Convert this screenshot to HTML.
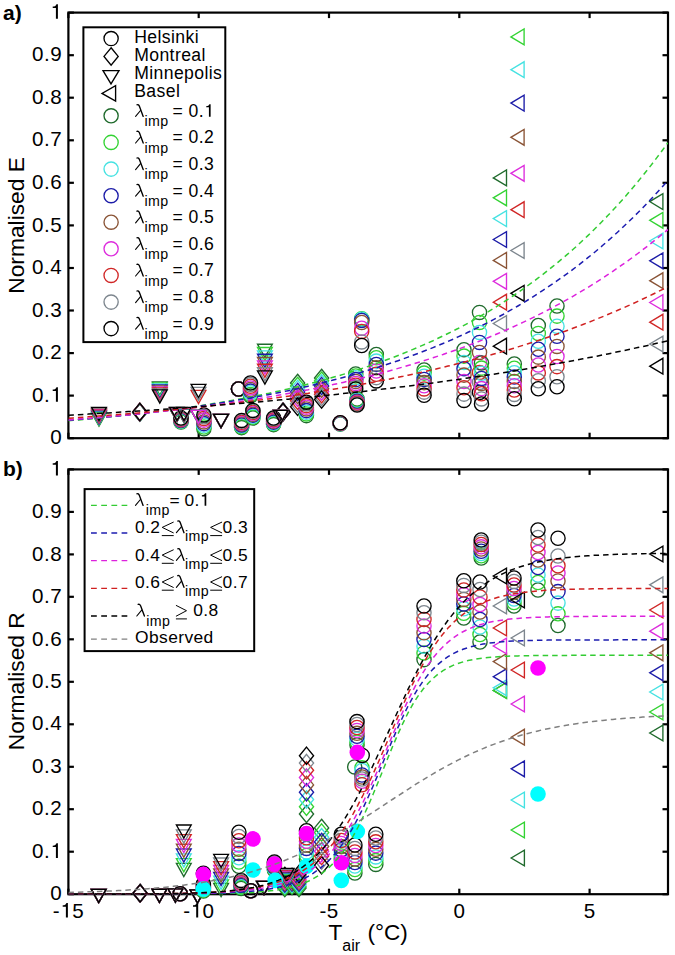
<!DOCTYPE html><html><head><meta charset="utf-8"><style>html,body{margin:0;padding:0;background:#fff;overflow:hidden;}svg{display:block;}text{font-family:"Liberation Sans",sans-serif;}</style></head><body>
<svg width="675" height="955" viewBox="0 0 675 955">
<defs><clipPath id="ca"><rect x="68.4" y="12.6" width="599.6" height="425.6"/></clipPath><clipPath id="cb"><rect x="68.4" y="469.4" width="599.6" height="424.8"/></clipPath></defs>
<g stroke="#000" stroke-width="2.2" fill="none"><line x1="68.4" y1="438.2" x2="68.4" y2="432.7"/><line x1="68.4" y1="12.6" x2="68.4" y2="18.1"/><line x1="198.7" y1="438.2" x2="198.7" y2="432.7"/><line x1="198.7" y1="12.6" x2="198.7" y2="18.1"/><line x1="329.0" y1="438.2" x2="329.0" y2="432.7"/><line x1="329.0" y1="12.6" x2="329.0" y2="18.1"/><line x1="459.3" y1="438.2" x2="459.3" y2="432.7"/><line x1="459.3" y1="12.6" x2="459.3" y2="18.1"/><line x1="589.6" y1="438.2" x2="589.6" y2="432.7"/><line x1="589.6" y1="12.6" x2="589.6" y2="18.1"/><line x1="68.4" y1="438.2" x2="73.9" y2="438.2"/><line x1="668.0" y1="438.2" x2="662.5" y2="438.2"/><line x1="68.4" y1="395.6" x2="73.9" y2="395.6"/><line x1="668.0" y1="395.6" x2="662.5" y2="395.6"/><line x1="68.4" y1="353.1" x2="73.9" y2="353.1"/><line x1="668.0" y1="353.1" x2="662.5" y2="353.1"/><line x1="68.4" y1="310.5" x2="73.9" y2="310.5"/><line x1="668.0" y1="310.5" x2="662.5" y2="310.5"/><line x1="68.4" y1="268.0" x2="73.9" y2="268.0"/><line x1="668.0" y1="268.0" x2="662.5" y2="268.0"/><line x1="68.4" y1="225.4" x2="73.9" y2="225.4"/><line x1="668.0" y1="225.4" x2="662.5" y2="225.4"/><line x1="68.4" y1="182.8" x2="73.9" y2="182.8"/><line x1="668.0" y1="182.8" x2="662.5" y2="182.8"/><line x1="68.4" y1="140.3" x2="73.9" y2="140.3"/><line x1="668.0" y1="140.3" x2="662.5" y2="140.3"/><line x1="68.4" y1="97.7" x2="73.9" y2="97.7"/><line x1="668.0" y1="97.7" x2="662.5" y2="97.7"/><line x1="68.4" y1="55.2" x2="73.9" y2="55.2"/><line x1="668.0" y1="55.2" x2="662.5" y2="55.2"/><line x1="68.4" y1="12.6" x2="73.9" y2="12.6"/><line x1="668.0" y1="12.6" x2="662.5" y2="12.6"/><rect x="68.4" y="12.6" width="599.6" height="425.6" fill="none"/><line x1="68.4" y1="894.2" x2="68.4" y2="888.7"/><line x1="68.4" y1="469.4" x2="68.4" y2="474.9"/><line x1="198.7" y1="894.2" x2="198.7" y2="888.7"/><line x1="198.7" y1="469.4" x2="198.7" y2="474.9"/><line x1="329.0" y1="894.2" x2="329.0" y2="888.7"/><line x1="329.0" y1="469.4" x2="329.0" y2="474.9"/><line x1="459.3" y1="894.2" x2="459.3" y2="888.7"/><line x1="459.3" y1="469.4" x2="459.3" y2="474.9"/><line x1="589.6" y1="894.2" x2="589.6" y2="888.7"/><line x1="589.6" y1="469.4" x2="589.6" y2="474.9"/><line x1="68.4" y1="894.2" x2="73.9" y2="894.2"/><line x1="668.0" y1="894.2" x2="662.5" y2="894.2"/><line x1="68.4" y1="851.7" x2="73.9" y2="851.7"/><line x1="668.0" y1="851.7" x2="662.5" y2="851.7"/><line x1="68.4" y1="809.2" x2="73.9" y2="809.2"/><line x1="668.0" y1="809.2" x2="662.5" y2="809.2"/><line x1="68.4" y1="766.8" x2="73.9" y2="766.8"/><line x1="668.0" y1="766.8" x2="662.5" y2="766.8"/><line x1="68.4" y1="724.3" x2="73.9" y2="724.3"/><line x1="668.0" y1="724.3" x2="662.5" y2="724.3"/><line x1="68.4" y1="681.8" x2="73.9" y2="681.8"/><line x1="668.0" y1="681.8" x2="662.5" y2="681.8"/><line x1="68.4" y1="639.3" x2="73.9" y2="639.3"/><line x1="668.0" y1="639.3" x2="662.5" y2="639.3"/><line x1="68.4" y1="596.8" x2="73.9" y2="596.8"/><line x1="668.0" y1="596.8" x2="662.5" y2="596.8"/><line x1="68.4" y1="554.4" x2="73.9" y2="554.4"/><line x1="668.0" y1="554.4" x2="662.5" y2="554.4"/><line x1="68.4" y1="511.9" x2="73.9" y2="511.9"/><line x1="668.0" y1="511.9" x2="662.5" y2="511.9"/><line x1="68.4" y1="469.4" x2="73.9" y2="469.4"/><line x1="668.0" y1="469.4" x2="662.5" y2="469.4"/><rect x="68.4" y="469.4" width="599.6" height="424.8" fill="none"/></g>
<g stroke-width="1.35"><path d="M91.6 412.9L106.4 412.9L99.0 426.1Z" stroke="#1f6a2c" fill="none"/><path d="M91.6 412.2L106.4 412.2L99.0 425.4Z" stroke="#33d333" fill="none"/><path d="M91.6 411.5L106.4 411.5L99.0 424.7Z" stroke="#46e2e2" fill="none"/><path d="M91.6 410.8L106.4 410.8L99.0 424.0Z" stroke="#1c1ca8" fill="none"/><path d="M91.6 410.1L106.4 410.1L99.0 423.4Z" stroke="#8a5436" fill="none"/><path d="M91.6 409.5L106.4 409.5L99.0 422.7Z" stroke="#dd2ddd" fill="none"/><path d="M91.6 408.8L106.4 408.8L99.0 422.0Z" stroke="#d02626" fill="none"/><path d="M91.6 408.1L106.4 408.1L99.0 421.3Z" stroke="#7d868e" fill="none"/><path d="M91.6 407.4L106.4 407.4L99.0 420.6Z" stroke="#000000" fill="none"/><path d="M139.8 403.8L146.9 412.5L139.8 421.2L132.7 412.5Z" stroke="#1f6a2c" fill="none"/><path d="M139.8 403.7L146.9 412.4L139.8 421.1L132.7 412.4Z" stroke="#33d333" fill="none"/><path d="M139.8 403.7L146.9 412.4L139.8 421.1L132.7 412.4Z" stroke="#46e2e2" fill="none"/><path d="M139.8 403.6L146.9 412.3L139.8 421.0L132.7 412.3Z" stroke="#1c1ca8" fill="none"/><path d="M139.8 403.5L146.9 412.2L139.8 420.9L132.7 412.2Z" stroke="#8a5436" fill="none"/><path d="M139.8 403.4L146.9 412.1L139.8 420.8L132.7 412.1Z" stroke="#dd2ddd" fill="none"/><path d="M139.8 403.3L146.9 412.0L139.8 420.7L132.7 412.0Z" stroke="#d02626" fill="none"/><path d="M139.8 403.3L146.9 412.0L139.8 420.7L132.7 412.0Z" stroke="#7d868e" fill="none"/><path d="M139.8 403.2L146.9 411.9L139.8 420.6L132.7 411.9Z" stroke="#000000" fill="none"/><path d="M152.4 381.9L167.2 381.9L159.8 395.1Z" stroke="#1f6a2c" fill="none"/><path d="M152.4 382.9L167.2 382.9L159.8 396.1Z" stroke="#33d333" fill="none"/><path d="M152.4 383.9L167.2 383.9L159.8 397.1Z" stroke="#46e2e2" fill="none"/><path d="M152.4 384.9L167.2 384.9L159.8 398.1Z" stroke="#1c1ca8" fill="none"/><path d="M152.4 385.9L167.2 385.9L159.8 399.1Z" stroke="#8a5436" fill="none"/><path d="M152.4 386.9L167.2 386.9L159.8 400.1Z" stroke="#dd2ddd" fill="none"/><path d="M152.4 387.9L167.2 387.9L159.8 401.1Z" stroke="#d02626" fill="none"/><path d="M152.4 388.9L167.2 388.9L159.8 402.1Z" stroke="#7d868e" fill="none"/><path d="M152.4 389.9L167.2 389.9L159.8 403.1Z" stroke="#000000" fill="none"/><circle cx="181.0" cy="422.0" r="7.1" stroke="#1f6a2c" fill="none"/><circle cx="181.0" cy="421.5" r="7.1" stroke="#33d333" fill="none"/><circle cx="181.0" cy="421.0" r="7.1" stroke="#46e2e2" fill="none"/><circle cx="181.0" cy="420.5" r="7.1" stroke="#1c1ca8" fill="none"/><circle cx="181.0" cy="420.0" r="7.1" stroke="#8a5436" fill="none"/><circle cx="181.0" cy="419.5" r="7.1" stroke="#dd2ddd" fill="none"/><circle cx="181.0" cy="419.0" r="7.1" stroke="#d02626" fill="none"/><circle cx="181.0" cy="418.5" r="7.1" stroke="#7d868e" fill="none"/><circle cx="181.0" cy="418.0" r="7.1" stroke="#000000" fill="none"/><path d="M169.6 408.4L184.4 408.4L177.0 421.6Z" stroke="#1f6a2c" fill="none"/><path d="M169.6 408.3L184.4 408.3L177.0 421.5Z" stroke="#33d333" fill="none"/><path d="M169.6 408.1L184.4 408.1L177.0 421.4Z" stroke="#46e2e2" fill="none"/><path d="M169.6 408.0L184.4 408.0L177.0 421.2Z" stroke="#1c1ca8" fill="none"/><path d="M169.6 407.9L184.4 407.9L177.0 421.1Z" stroke="#8a5436" fill="none"/><path d="M169.6 407.8L184.4 407.8L177.0 421.0Z" stroke="#dd2ddd" fill="none"/><path d="M169.6 407.6L184.4 407.6L177.0 420.9Z" stroke="#d02626" fill="none"/><path d="M169.6 407.5L184.4 407.5L177.0 420.7Z" stroke="#7d868e" fill="none"/><path d="M169.6 407.4L184.4 407.4L177.0 420.6Z" stroke="#000000" fill="none"/><path d="M176.6 409.4L191.4 409.4L184.0 422.6Z" stroke="#1f6a2c" fill="none"/><path d="M176.6 409.1L191.4 409.1L184.0 422.4Z" stroke="#33d333" fill="none"/><path d="M176.6 408.9L191.4 408.9L184.0 422.1Z" stroke="#46e2e2" fill="none"/><path d="M176.6 408.6L191.4 408.6L184.0 421.9Z" stroke="#1c1ca8" fill="none"/><path d="M176.6 408.4L191.4 408.4L184.0 421.6Z" stroke="#8a5436" fill="none"/><path d="M176.6 408.1L191.4 408.1L184.0 421.4Z" stroke="#dd2ddd" fill="none"/><path d="M176.6 407.9L191.4 407.9L184.0 421.1Z" stroke="#d02626" fill="none"/><path d="M176.6 407.6L191.4 407.6L184.0 420.9Z" stroke="#7d868e" fill="none"/><path d="M176.6 407.4L191.4 407.4L184.0 420.6Z" stroke="#000000" fill="none"/><circle cx="203.9" cy="428.7" r="7.1" stroke="#1f6a2c" fill="none"/><circle cx="203.9" cy="427.0" r="7.1" stroke="#33d333" fill="none"/><circle cx="203.9" cy="425.3" r="7.1" stroke="#46e2e2" fill="none"/><circle cx="203.9" cy="423.6" r="7.1" stroke="#1c1ca8" fill="none"/><circle cx="203.9" cy="421.9" r="7.1" stroke="#8a5436" fill="none"/><circle cx="203.9" cy="420.1" r="7.1" stroke="#dd2ddd" fill="none"/><circle cx="203.9" cy="418.4" r="7.1" stroke="#d02626" fill="none"/><circle cx="203.9" cy="416.7" r="7.1" stroke="#7d868e" fill="none"/><circle cx="203.9" cy="415.0" r="7.1" stroke="#000000" fill="none"/><path d="M191.1 410.4L205.9 410.4L198.5 423.6Z" stroke="#1f6a2c" fill="none"/><path d="M191.1 410.4L205.9 410.4L198.5 423.6Z" stroke="#33d333" fill="none"/><path d="M191.1 410.4L205.9 410.4L198.5 423.6Z" stroke="#46e2e2" fill="none"/><path d="M191.1 410.4L205.9 410.4L198.5 423.6Z" stroke="#1c1ca8" fill="none"/><path d="M191.1 410.4L205.9 410.4L198.5 423.6Z" stroke="#8a5436" fill="none"/><path d="M191.1 410.4L205.9 410.4L198.5 423.6Z" stroke="#dd2ddd" fill="none"/><path d="M191.1 390.4L205.9 390.4L198.5 403.6Z" stroke="#d02626" fill="none"/><path d="M191.1 387.4L205.9 387.4L198.5 400.6Z" stroke="#7d868e" fill="none"/><path d="M191.1 384.4L205.9 384.4L198.5 397.6Z" stroke="#000000" fill="none"/><path d="M213.6 414.4L228.4 414.4L221.0 427.6Z" stroke="#1f6a2c" fill="none"/><path d="M213.6 414.4L228.4 414.4L221.0 427.6Z" stroke="#33d333" fill="none"/><path d="M213.6 414.4L228.4 414.4L221.0 427.6Z" stroke="#46e2e2" fill="none"/><path d="M213.6 414.4L228.4 414.4L221.0 427.6Z" stroke="#1c1ca8" fill="none"/><path d="M213.6 414.4L228.4 414.4L221.0 427.6Z" stroke="#8a5436" fill="none"/><path d="M213.6 414.4L228.4 414.4L221.0 427.6Z" stroke="#dd2ddd" fill="none"/><path d="M213.6 414.4L228.4 414.4L221.0 427.6Z" stroke="#d02626" fill="none"/><path d="M213.6 414.4L228.4 414.4L221.0 427.6Z" stroke="#7d868e" fill="none"/><path d="M213.6 414.4L228.4 414.4L221.0 427.6Z" stroke="#000000" fill="none"/><circle cx="238.5" cy="389.0" r="7.1" stroke="#1f6a2c" fill="none"/><circle cx="238.5" cy="389.0" r="7.1" stroke="#33d333" fill="none"/><circle cx="238.5" cy="389.0" r="7.1" stroke="#46e2e2" fill="none"/><circle cx="238.5" cy="389.0" r="7.1" stroke="#1c1ca8" fill="none"/><circle cx="238.5" cy="389.0" r="7.1" stroke="#8a5436" fill="none"/><circle cx="238.5" cy="389.0" r="7.1" stroke="#dd2ddd" fill="none"/><circle cx="238.5" cy="389.0" r="7.1" stroke="#d02626" fill="none"/><circle cx="238.5" cy="389.0" r="7.1" stroke="#7d868e" fill="none"/><circle cx="238.5" cy="389.0" r="7.1" stroke="#000000" fill="none"/><circle cx="250.5" cy="396.0" r="7.1" stroke="#1f6a2c" fill="none"/><circle cx="250.5" cy="394.4" r="7.1" stroke="#33d333" fill="none"/><circle cx="250.5" cy="392.8" r="7.1" stroke="#46e2e2" fill="none"/><circle cx="250.5" cy="391.1" r="7.1" stroke="#1c1ca8" fill="none"/><circle cx="250.5" cy="389.5" r="7.1" stroke="#8a5436" fill="none"/><circle cx="250.5" cy="387.9" r="7.1" stroke="#dd2ddd" fill="none"/><circle cx="250.5" cy="386.2" r="7.1" stroke="#d02626" fill="none"/><circle cx="250.5" cy="384.6" r="7.1" stroke="#7d868e" fill="none"/><circle cx="250.5" cy="383.0" r="7.1" stroke="#000000" fill="none"/><circle cx="241.6" cy="427.6" r="7.1" stroke="#1f6a2c" fill="none"/><circle cx="241.6" cy="426.7" r="7.1" stroke="#33d333" fill="none"/><circle cx="241.6" cy="425.8" r="7.1" stroke="#46e2e2" fill="none"/><circle cx="241.6" cy="424.9" r="7.1" stroke="#1c1ca8" fill="none"/><circle cx="241.6" cy="424.0" r="7.1" stroke="#8a5436" fill="none"/><circle cx="241.6" cy="423.1" r="7.1" stroke="#dd2ddd" fill="none"/><circle cx="241.6" cy="422.2" r="7.1" stroke="#d02626" fill="none"/><circle cx="241.6" cy="421.3" r="7.1" stroke="#7d868e" fill="none"/><circle cx="241.6" cy="420.4" r="7.1" stroke="#000000" fill="none"/><circle cx="252.9" cy="418.0" r="7.1" stroke="#1f6a2c" fill="none"/><circle cx="252.9" cy="417.1" r="7.1" stroke="#33d333" fill="none"/><circle cx="252.9" cy="416.1" r="7.1" stroke="#46e2e2" fill="none"/><circle cx="252.9" cy="415.1" r="7.1" stroke="#1c1ca8" fill="none"/><circle cx="252.9" cy="414.2" r="7.1" stroke="#8a5436" fill="none"/><circle cx="252.9" cy="413.2" r="7.1" stroke="#dd2ddd" fill="none"/><circle cx="252.9" cy="412.3" r="7.1" stroke="#d02626" fill="none"/><circle cx="252.9" cy="411.3" r="7.1" stroke="#7d868e" fill="none"/><circle cx="252.9" cy="410.4" r="7.1" stroke="#000000" fill="none"/><circle cx="273.6" cy="424.6" r="7.1" stroke="#1f6a2c" fill="none"/><circle cx="273.6" cy="423.8" r="7.1" stroke="#33d333" fill="none"/><circle cx="273.6" cy="423.0" r="7.1" stroke="#46e2e2" fill="none"/><circle cx="273.6" cy="422.1" r="7.1" stroke="#1c1ca8" fill="none"/><circle cx="273.6" cy="421.3" r="7.1" stroke="#8a5436" fill="none"/><circle cx="273.6" cy="420.5" r="7.1" stroke="#dd2ddd" fill="none"/><circle cx="273.6" cy="419.6" r="7.1" stroke="#d02626" fill="none"/><circle cx="273.6" cy="418.8" r="7.1" stroke="#7d868e" fill="none"/><circle cx="273.6" cy="418.0" r="7.1" stroke="#000000" fill="none"/><path d="M257.5 344.2L272.3 344.2L264.9 357.4Z" stroke="#1f6a2c" fill="none"/><path d="M257.5 347.5L272.3 347.5L264.9 360.7Z" stroke="#33d333" fill="none"/><path d="M257.5 350.9L272.3 350.9L264.9 364.1Z" stroke="#46e2e2" fill="none"/><path d="M257.5 354.2L272.3 354.2L264.9 367.4Z" stroke="#1c1ca8" fill="none"/><path d="M257.5 357.5L272.3 357.5L264.9 370.8Z" stroke="#8a5436" fill="none"/><path d="M257.5 360.9L272.3 360.9L264.9 374.1Z" stroke="#dd2ddd" fill="none"/><path d="M257.5 364.2L272.3 364.2L264.9 377.4Z" stroke="#d02626" fill="none"/><path d="M257.5 367.6L272.3 367.6L264.9 380.8Z" stroke="#7d868e" fill="none"/><path d="M257.5 370.9L272.3 370.9L264.9 384.1Z" stroke="#000000" fill="none"/><path d="M283.0 403.3L290.1 412.0L283.0 420.7L275.9 412.0Z" stroke="#1f6a2c" fill="none"/><path d="M283.0 403.3L290.1 412.0L283.0 420.7L275.9 412.0Z" stroke="#33d333" fill="none"/><path d="M283.0 403.3L290.1 412.0L283.0 420.7L275.9 412.0Z" stroke="#46e2e2" fill="none"/><path d="M283.0 403.3L290.1 412.0L283.0 420.7L275.9 412.0Z" stroke="#1c1ca8" fill="none"/><path d="M283.0 403.3L290.1 412.0L283.0 420.7L275.9 412.0Z" stroke="#8a5436" fill="none"/><path d="M283.0 403.3L290.1 412.0L283.0 420.7L275.9 412.0Z" stroke="#dd2ddd" fill="none"/><path d="M283.0 403.3L290.1 412.0L283.0 420.7L275.9 412.0Z" stroke="#d02626" fill="none"/><path d="M283.0 403.3L290.1 412.0L283.0 420.7L275.9 412.0Z" stroke="#7d868e" fill="none"/><path d="M283.0 403.3L290.1 412.0L283.0 420.7L275.9 412.0Z" stroke="#000000" fill="none"/><path d="M273.3 410.4L288.1 410.4L280.7 423.6Z" stroke="#1f6a2c" fill="none"/><path d="M273.3 410.4L288.1 410.4L280.7 423.6Z" stroke="#33d333" fill="none"/><path d="M273.3 410.4L288.1 410.4L280.7 423.6Z" stroke="#46e2e2" fill="none"/><path d="M273.3 410.4L288.1 410.4L280.7 423.6Z" stroke="#1c1ca8" fill="none"/><path d="M273.3 410.4L288.1 410.4L280.7 423.6Z" stroke="#8a5436" fill="none"/><path d="M273.3 410.4L288.1 410.4L280.7 423.6Z" stroke="#dd2ddd" fill="none"/><path d="M273.3 410.4L288.1 410.4L280.7 423.6Z" stroke="#d02626" fill="none"/><path d="M273.3 410.4L288.1 410.4L280.7 423.6Z" stroke="#7d868e" fill="none"/><path d="M273.3 410.4L288.1 410.4L280.7 423.6Z" stroke="#000000" fill="none"/><path d="M297.6 374.3L304.7 383.0L297.6 391.7L290.5 383.0Z" stroke="#1f6a2c" fill="none"/><path d="M297.6 377.3L304.7 386.0L297.6 394.7L290.5 386.0Z" stroke="#33d333" fill="none"/><path d="M297.6 380.2L304.7 388.9L297.6 397.6L290.5 388.9Z" stroke="#46e2e2" fill="none"/><path d="M297.6 383.2L304.7 391.9L297.6 400.6L290.5 391.9Z" stroke="#1c1ca8" fill="none"/><path d="M297.6 386.2L304.7 394.9L297.6 403.6L290.5 394.9Z" stroke="#8a5436" fill="none"/><path d="M297.6 389.1L304.7 397.8L297.6 406.5L290.5 397.8Z" stroke="#dd2ddd" fill="none"/><path d="M297.6 392.1L304.7 400.8L297.6 409.5L290.5 400.8Z" stroke="#d02626" fill="none"/><path d="M297.6 395.0L304.7 403.7L297.6 412.4L290.5 403.7Z" stroke="#7d868e" fill="none"/><path d="M297.6 398.0L304.7 406.7L297.6 415.4L290.5 406.7Z" stroke="#000000" fill="none"/><circle cx="306.4" cy="415.6" r="7.1" stroke="#1f6a2c" fill="none"/><circle cx="306.4" cy="413.9" r="7.1" stroke="#33d333" fill="none"/><circle cx="306.4" cy="412.2" r="7.1" stroke="#46e2e2" fill="none"/><circle cx="306.4" cy="410.6" r="7.1" stroke="#1c1ca8" fill="none"/><circle cx="306.4" cy="408.9" r="7.1" stroke="#8a5436" fill="none"/><circle cx="306.4" cy="407.2" r="7.1" stroke="#dd2ddd" fill="none"/><circle cx="306.4" cy="405.6" r="7.1" stroke="#d02626" fill="none"/><circle cx="306.4" cy="403.9" r="7.1" stroke="#7d868e" fill="none"/><circle cx="306.4" cy="402.2" r="7.1" stroke="#000000" fill="none"/><path d="M321.6 369.3L328.7 378.0L321.6 386.7L314.5 378.0Z" stroke="#1f6a2c" fill="none"/><path d="M321.6 372.0L328.7 380.7L321.6 389.4L314.5 380.7Z" stroke="#33d333" fill="none"/><path d="M321.6 374.7L328.7 383.4L321.6 392.1L314.5 383.4Z" stroke="#46e2e2" fill="none"/><path d="M321.6 377.4L328.7 386.1L321.6 394.8L314.5 386.1Z" stroke="#1c1ca8" fill="none"/><path d="M321.6 380.1L328.7 388.8L321.6 397.5L314.5 388.8Z" stroke="#8a5436" fill="none"/><path d="M321.6 382.8L328.7 391.5L321.6 400.2L314.5 391.5Z" stroke="#dd2ddd" fill="none"/><path d="M321.6 385.5L328.7 394.2L321.6 402.9L314.5 394.2Z" stroke="#d02626" fill="none"/><path d="M321.6 388.2L328.7 396.9L321.6 405.6L314.5 396.9Z" stroke="#7d868e" fill="none"/><path d="M321.6 390.9L328.7 399.6L321.6 408.3L314.5 399.6Z" stroke="#000000" fill="none"/><circle cx="340.2" cy="424.0" r="7.1" stroke="#1f6a2c" fill="none"/><circle cx="340.2" cy="423.8" r="7.1" stroke="#33d333" fill="none"/><circle cx="340.2" cy="423.7" r="7.1" stroke="#46e2e2" fill="none"/><circle cx="340.2" cy="423.5" r="7.1" stroke="#1c1ca8" fill="none"/><circle cx="340.2" cy="423.4" r="7.1" stroke="#8a5436" fill="none"/><circle cx="340.2" cy="423.2" r="7.1" stroke="#dd2ddd" fill="none"/><circle cx="340.2" cy="423.0" r="7.1" stroke="#d02626" fill="none"/><circle cx="340.2" cy="422.9" r="7.1" stroke="#7d868e" fill="none"/><circle cx="340.2" cy="422.7" r="7.1" stroke="#000000" fill="none"/><circle cx="361.7" cy="319.5" r="7.1" stroke="#1f6a2c" fill="none"/><circle cx="361.7" cy="318.8" r="7.1" stroke="#33d333" fill="none"/><circle cx="361.7" cy="319.2" r="7.1" stroke="#46e2e2" fill="none"/><circle cx="361.7" cy="320.4" r="7.1" stroke="#1c1ca8" fill="none"/><circle cx="361.7" cy="322.5" r="7.1" stroke="#8a5436" fill="none"/><circle cx="361.7" cy="328.3" r="7.1" stroke="#dd2ddd" fill="none"/><circle cx="361.7" cy="331.4" r="7.1" stroke="#d02626" fill="none"/><circle cx="361.7" cy="341.9" r="7.1" stroke="#7d868e" fill="none"/><circle cx="361.7" cy="345.5" r="7.1" stroke="#000000" fill="none"/><circle cx="376.3" cy="354.5" r="7.1" stroke="#1f6a2c" fill="none"/><circle cx="376.3" cy="357.8" r="7.1" stroke="#33d333" fill="none"/><circle cx="376.3" cy="361.1" r="7.1" stroke="#46e2e2" fill="none"/><circle cx="376.3" cy="364.4" r="7.1" stroke="#1c1ca8" fill="none"/><circle cx="376.3" cy="367.7" r="7.1" stroke="#8a5436" fill="none"/><circle cx="376.3" cy="371.0" r="7.1" stroke="#dd2ddd" fill="none"/><circle cx="376.3" cy="374.3" r="7.1" stroke="#d02626" fill="none"/><circle cx="376.3" cy="377.6" r="7.1" stroke="#7d868e" fill="none"/><circle cx="376.3" cy="380.9" r="7.1" stroke="#000000" fill="none"/><circle cx="355.7" cy="374.0" r="7.1" stroke="#1f6a2c" fill="none"/><circle cx="355.7" cy="375.9" r="7.1" stroke="#33d333" fill="none"/><circle cx="355.7" cy="377.8" r="7.1" stroke="#46e2e2" fill="none"/><circle cx="355.7" cy="379.6" r="7.1" stroke="#1c1ca8" fill="none"/><circle cx="355.7" cy="381.5" r="7.1" stroke="#8a5436" fill="none"/><circle cx="355.7" cy="383.4" r="7.1" stroke="#dd2ddd" fill="none"/><circle cx="355.7" cy="385.2" r="7.1" stroke="#d02626" fill="none"/><circle cx="355.7" cy="387.1" r="7.1" stroke="#7d868e" fill="none"/><circle cx="355.7" cy="389.0" r="7.1" stroke="#000000" fill="none"/><circle cx="357.1" cy="399.0" r="7.1" stroke="#1f6a2c" fill="none"/><circle cx="357.1" cy="399.8" r="7.1" stroke="#33d333" fill="none"/><circle cx="357.1" cy="400.5" r="7.1" stroke="#46e2e2" fill="none"/><circle cx="357.1" cy="401.2" r="7.1" stroke="#1c1ca8" fill="none"/><circle cx="357.1" cy="402.0" r="7.1" stroke="#8a5436" fill="none"/><circle cx="357.1" cy="402.8" r="7.1" stroke="#dd2ddd" fill="none"/><circle cx="357.1" cy="403.5" r="7.1" stroke="#d02626" fill="none"/><circle cx="357.1" cy="404.2" r="7.1" stroke="#7d868e" fill="none"/><circle cx="357.1" cy="405.0" r="7.1" stroke="#000000" fill="none"/><circle cx="424.1" cy="370.0" r="7.1" stroke="#1f6a2c" fill="none"/><circle cx="424.1" cy="373.1" r="7.1" stroke="#33d333" fill="none"/><circle cx="424.1" cy="376.3" r="7.1" stroke="#46e2e2" fill="none"/><circle cx="424.1" cy="379.4" r="7.1" stroke="#1c1ca8" fill="none"/><circle cx="424.1" cy="382.6" r="7.1" stroke="#8a5436" fill="none"/><circle cx="424.1" cy="385.8" r="7.1" stroke="#dd2ddd" fill="none"/><circle cx="424.1" cy="388.9" r="7.1" stroke="#d02626" fill="none"/><circle cx="424.1" cy="392.1" r="7.1" stroke="#7d868e" fill="none"/><circle cx="424.1" cy="395.2" r="7.1" stroke="#000000" fill="none"/><circle cx="464.0" cy="349.8" r="7.1" stroke="#1f6a2c" fill="none"/><circle cx="464.0" cy="356.1" r="7.1" stroke="#33d333" fill="none"/><circle cx="464.0" cy="362.4" r="7.1" stroke="#46e2e2" fill="none"/><circle cx="464.0" cy="368.8" r="7.1" stroke="#1c1ca8" fill="none"/><circle cx="464.0" cy="375.1" r="7.1" stroke="#8a5436" fill="none"/><circle cx="464.0" cy="381.4" r="7.1" stroke="#dd2ddd" fill="none"/><circle cx="464.0" cy="387.8" r="7.1" stroke="#d02626" fill="none"/><circle cx="464.0" cy="394.1" r="7.1" stroke="#7d868e" fill="none"/><circle cx="464.0" cy="400.4" r="7.1" stroke="#000000" fill="none"/><circle cx="479.5" cy="312.4" r="7.1" stroke="#1f6a2c" fill="none"/><circle cx="479.5" cy="322.4" r="7.1" stroke="#33d333" fill="none"/><circle cx="479.5" cy="332.4" r="7.1" stroke="#46e2e2" fill="none"/><circle cx="479.5" cy="342.4" r="7.1" stroke="#1c1ca8" fill="none"/><circle cx="479.5" cy="352.4" r="7.1" stroke="#8a5436" fill="none"/><circle cx="479.5" cy="362.4" r="7.1" stroke="#dd2ddd" fill="none"/><circle cx="479.5" cy="372.4" r="7.1" stroke="#d02626" fill="none"/><circle cx="479.5" cy="382.4" r="7.1" stroke="#7d868e" fill="none"/><circle cx="479.5" cy="392.4" r="7.1" stroke="#000000" fill="none"/><circle cx="481.5" cy="363.0" r="7.1" stroke="#1f6a2c" fill="none"/><circle cx="481.5" cy="368.1" r="7.1" stroke="#33d333" fill="none"/><circle cx="481.5" cy="373.2" r="7.1" stroke="#46e2e2" fill="none"/><circle cx="481.5" cy="378.4" r="7.1" stroke="#1c1ca8" fill="none"/><circle cx="481.5" cy="383.5" r="7.1" stroke="#8a5436" fill="none"/><circle cx="481.5" cy="388.6" r="7.1" stroke="#dd2ddd" fill="none"/><circle cx="481.5" cy="393.8" r="7.1" stroke="#d02626" fill="none"/><circle cx="481.5" cy="398.9" r="7.1" stroke="#7d868e" fill="none"/><circle cx="481.5" cy="404.0" r="7.1" stroke="#000000" fill="none"/><circle cx="514.3" cy="364.0" r="7.1" stroke="#1f6a2c" fill="none"/><circle cx="514.3" cy="368.3" r="7.1" stroke="#33d333" fill="none"/><circle cx="514.3" cy="372.7" r="7.1" stroke="#46e2e2" fill="none"/><circle cx="514.3" cy="377.0" r="7.1" stroke="#1c1ca8" fill="none"/><circle cx="514.3" cy="381.4" r="7.1" stroke="#8a5436" fill="none"/><circle cx="514.3" cy="385.7" r="7.1" stroke="#dd2ddd" fill="none"/><circle cx="514.3" cy="390.0" r="7.1" stroke="#d02626" fill="none"/><circle cx="514.3" cy="394.4" r="7.1" stroke="#7d868e" fill="none"/><circle cx="514.3" cy="398.7" r="7.1" stroke="#000000" fill="none"/><circle cx="538.3" cy="325.5" r="7.1" stroke="#1f6a2c" fill="none"/><circle cx="538.3" cy="333.4" r="7.1" stroke="#33d333" fill="none"/><circle cx="538.3" cy="341.3" r="7.1" stroke="#46e2e2" fill="none"/><circle cx="538.3" cy="349.2" r="7.1" stroke="#1c1ca8" fill="none"/><circle cx="538.3" cy="357.1" r="7.1" stroke="#8a5436" fill="none"/><circle cx="538.3" cy="365.0" r="7.1" stroke="#dd2ddd" fill="none"/><circle cx="538.3" cy="372.9" r="7.1" stroke="#d02626" fill="none"/><circle cx="538.3" cy="380.8" r="7.1" stroke="#7d868e" fill="none"/><circle cx="538.3" cy="388.7" r="7.1" stroke="#000000" fill="none"/><circle cx="557.0" cy="306.0" r="7.1" stroke="#1f6a2c" fill="none"/><circle cx="557.0" cy="316.1" r="7.1" stroke="#33d333" fill="none"/><circle cx="557.0" cy="326.2" r="7.1" stroke="#46e2e2" fill="none"/><circle cx="557.0" cy="336.3" r="7.1" stroke="#1c1ca8" fill="none"/><circle cx="557.0" cy="346.4" r="7.1" stroke="#8a5436" fill="none"/><circle cx="557.0" cy="356.5" r="7.1" stroke="#dd2ddd" fill="none"/><circle cx="557.0" cy="366.6" r="7.1" stroke="#d02626" fill="none"/><circle cx="557.0" cy="376.7" r="7.1" stroke="#7d868e" fill="none"/><circle cx="557.0" cy="386.8" r="7.1" stroke="#000000" fill="none"/><path d="M506.5 170.0L506.5 185.8L493.3 177.9Z" stroke="#1f6a2c" fill="none"/><path d="M506.5 189.9L506.5 205.7L493.3 197.8Z" stroke="#33d333" fill="none"/><path d="M506.5 210.7L506.5 226.5L493.3 218.6Z" stroke="#46e2e2" fill="none"/><path d="M506.5 231.6L506.5 247.4L493.3 239.5Z" stroke="#1c1ca8" fill="none"/><path d="M506.5 252.5L506.5 268.3L493.3 260.4Z" stroke="#8a5436" fill="none"/><path d="M506.5 273.4L506.5 289.2L493.3 281.3Z" stroke="#dd2ddd" fill="none"/><path d="M506.5 294.3L506.5 310.1L493.3 302.2Z" stroke="#d02626" fill="none"/><path d="M506.5 315.6L506.5 331.4L493.3 323.5Z" stroke="#7d868e" fill="none"/><path d="M506.5 338.3L506.5 354.1L493.3 346.2Z" stroke="#000000" fill="none"/><path d="M524.1 29.0L524.1 44.8L510.9 36.9Z" stroke="#33d333" fill="none"/><path d="M524.1 61.8L524.1 77.6L510.9 69.7Z" stroke="#46e2e2" fill="none"/><path d="M524.1 95.2L524.1 111.0L510.9 103.1Z" stroke="#1c1ca8" fill="none"/><path d="M524.1 129.4L524.1 145.2L510.9 137.3Z" stroke="#8a5436" fill="none"/><path d="M524.1 165.4L524.1 181.2L510.9 173.3Z" stroke="#dd2ddd" fill="none"/><path d="M524.1 201.8L524.1 217.6L510.9 209.7Z" stroke="#d02626" fill="none"/><path d="M524.1 242.6L524.1 258.4L510.9 250.5Z" stroke="#7d868e" fill="none"/><path d="M524.1 285.4L524.1 301.2L510.9 293.3Z" stroke="#000000" fill="none"/><path d="M662.9 193.7L662.9 209.5L649.7 201.6Z" stroke="#1f6a2c" fill="none"/><path d="M662.9 212.4L662.9 228.2L649.7 220.3Z" stroke="#33d333" fill="none"/><path d="M662.9 233.1L662.9 248.9L649.7 241.0Z" stroke="#46e2e2" fill="none"/><path d="M662.9 252.9L662.9 268.7L649.7 260.8Z" stroke="#1c1ca8" fill="none"/><path d="M662.9 272.8L662.9 288.6L649.7 280.7Z" stroke="#8a5436" fill="none"/><path d="M662.9 294.6L662.9 310.4L649.7 302.5Z" stroke="#dd2ddd" fill="none"/><path d="M662.9 314.3L662.9 330.1L649.7 322.2Z" stroke="#d02626" fill="none"/><path d="M662.9 336.1L662.9 351.9L649.7 344.0Z" stroke="#7d868e" fill="none"/><path d="M662.9 358.3L662.9 374.1L649.7 366.2Z" stroke="#000000" fill="none"/></g>
<g clip-path="url(#ca)"><path d="M68.4 420.8 L73.4 420.3 L78.4 419.9 L83.4 419.5 L88.4 419.0 L93.4 418.6 L98.4 418.1 L103.4 417.6 L108.4 417.1 L113.4 416.6 L118.3 416.1 L123.3 415.6 L128.3 415.0 L133.3 414.5 L138.3 413.9 L143.3 413.3 L148.3 412.8 L153.3 412.1 L158.3 411.5 L163.3 410.9 L168.3 410.2 L173.3 409.6 L178.3 408.9 L183.3 408.2 L188.3 407.5 L193.3 406.7 L198.3 406.0 L203.3 405.2 L208.3 404.4 L213.3 403.6 L218.2 402.8 L223.2 402.0 L228.2 401.1 L233.2 400.2 L238.2 399.3 L243.2 398.4 L248.2 397.4 L253.2 396.5 L258.2 395.5 L263.2 394.4 L268.2 393.4 L273.2 392.3 L278.2 391.2 L283.2 390.1 L288.2 389.0 L293.2 387.8 L298.2 386.6 L303.2 385.4 L308.2 384.1 L313.1 382.8 L318.1 381.5 L323.1 380.1 L328.1 378.7 L333.1 377.3 L338.1 375.9 L343.1 374.4 L348.1 372.9 L353.1 371.3 L358.1 369.7 L363.1 368.1 L368.1 366.4 L373.1 364.7 L378.1 362.9 L383.1 361.1 L388.1 359.3 L393.1 357.4 L398.1 355.5 L403.1 353.5 L408.0 351.5 L413.0 349.4 L418.0 347.3 L423.0 345.1 L428.0 342.9 L433.0 340.7 L438.0 338.3 L443.0 335.9 L448.0 333.5 L453.0 331.0 L458.0 328.5 L463.0 325.8 L468.0 323.2 L473.0 320.4 L478.0 317.6 L483.0 314.7 L488.0 311.8 L493.0 308.8 L498.0 305.7 L503.0 302.5 L507.9 299.3 L512.9 296.0 L517.9 292.6 L522.9 289.1 L527.9 285.5 L532.9 281.9 L537.9 278.2 L542.9 274.4 L547.9 270.4 L552.9 266.4 L557.9 262.3 L562.9 258.1 L567.9 253.9 L572.9 249.5 L577.9 245.0 L582.9 240.3 L587.9 235.6 L592.9 230.8 L597.9 225.8 L602.8 220.8 L607.8 215.6 L612.8 210.3 L617.8 204.8 L622.8 199.3 L627.8 193.6 L632.8 187.7 L637.8 181.8 L642.8 175.6 L647.8 169.4 L652.8 163.0 L657.8 156.4 L662.8 149.7 L667.8 142.8" stroke="#33cc33" fill="none" stroke-width="1.5" stroke-dasharray="5.5 4"/><path d="M68.4 420.3 L73.4 419.9 L78.4 419.5 L83.4 419.1 L88.4 418.7 L93.4 418.2 L98.4 417.8 L103.4 417.3 L108.4 416.8 L113.4 416.4 L118.3 415.9 L123.3 415.4 L128.3 414.9 L133.3 414.3 L138.3 413.8 L143.3 413.2 L148.3 412.7 L153.3 412.1 L158.3 411.5 L163.3 410.9 L168.3 410.3 L173.3 409.7 L178.3 409.0 L183.3 408.4 L188.3 407.7 L193.3 407.0 L198.3 406.3 L203.3 405.6 L208.3 404.9 L213.3 404.1 L218.2 403.4 L223.2 402.6 L228.2 401.8 L233.2 401.0 L238.2 400.1 L243.2 399.3 L248.2 398.4 L253.2 397.5 L258.2 396.6 L263.2 395.7 L268.2 394.7 L273.2 393.7 L278.2 392.7 L283.2 391.7 L288.2 390.7 L293.2 389.6 L298.2 388.5 L303.2 387.4 L308.2 386.2 L313.1 385.1 L318.1 383.9 L323.1 382.6 L328.1 381.4 L333.1 380.1 L338.1 378.8 L343.1 377.5 L348.1 376.1 L353.1 374.7 L358.1 373.3 L363.1 371.8 L368.1 370.3 L373.1 368.8 L378.1 367.3 L383.1 365.7 L388.1 364.0 L393.1 362.4 L398.1 360.7 L403.1 358.9 L408.0 357.1 L413.0 355.3 L418.0 353.4 L423.0 351.5 L428.0 349.6 L433.0 347.6 L438.0 345.6 L443.0 343.5 L448.0 341.4 L453.0 339.2 L458.0 336.9 L463.0 334.7 L468.0 332.3 L473.0 330.0 L478.0 327.5 L483.0 325.0 L488.0 322.5 L493.0 319.9 L498.0 317.2 L503.0 314.5 L507.9 311.7 L512.9 308.9 L517.9 306.0 L522.9 303.0 L527.9 300.0 L532.9 296.9 L537.9 293.7 L542.9 290.4 L547.9 287.1 L552.9 283.7 L557.9 280.2 L562.9 276.7 L567.9 273.1 L572.9 269.4 L577.9 265.6 L582.9 261.7 L587.9 257.7 L592.9 253.7 L597.9 249.5 L602.8 245.3 L607.8 240.9 L612.8 236.5 L617.8 232.0 L622.8 227.3 L627.8 222.6 L632.8 217.7 L637.8 212.8 L642.8 207.7 L647.8 202.5 L652.8 197.2 L657.8 191.8 L662.8 186.3 L667.8 180.6" stroke="#1c1cb0" fill="none" stroke-width="1.5" stroke-dasharray="5.5 4"/><path d="M68.4 419.9 L73.4 419.5 L78.4 419.1 L83.4 418.8 L88.4 418.4 L93.4 417.9 L98.4 417.5 L103.4 417.1 L108.4 416.7 L113.4 416.2 L118.3 415.8 L123.3 415.3 L128.3 414.9 L133.3 414.4 L138.3 413.9 L143.3 413.4 L148.3 412.9 L153.3 412.4 L158.3 411.8 L163.3 411.3 L168.3 410.7 L173.3 410.2 L178.3 409.6 L183.3 409.0 L188.3 408.4 L193.3 407.8 L198.3 407.2 L203.3 406.6 L208.3 405.9 L213.3 405.2 L218.2 404.6 L223.2 403.9 L228.2 403.2 L233.2 402.5 L238.2 401.7 L243.2 401.0 L248.2 400.2 L253.2 399.4 L258.2 398.7 L263.2 397.8 L268.2 397.0 L273.2 396.2 L278.2 395.3 L283.2 394.4 L288.2 393.5 L293.2 392.6 L298.2 391.7 L303.2 390.7 L308.2 389.8 L313.1 388.8 L318.1 387.8 L323.1 386.7 L328.1 385.7 L333.1 384.6 L338.1 383.5 L343.1 382.4 L348.1 381.2 L353.1 380.1 L358.1 378.9 L363.1 377.7 L368.1 376.4 L373.1 375.2 L378.1 373.9 L383.1 372.5 L388.1 371.2 L393.1 369.8 L398.1 368.4 L403.1 367.0 L408.0 365.5 L413.0 364.0 L418.0 362.5 L423.0 361.0 L428.0 359.4 L433.0 357.8 L438.0 356.1 L443.0 354.5 L448.0 352.7 L453.0 351.0 L458.0 349.2 L463.0 347.4 L468.0 345.5 L473.0 343.6 L478.0 341.7 L483.0 339.7 L488.0 337.7 L493.0 335.6 L498.0 333.5 L503.0 331.4 L507.9 329.2 L512.9 327.0 L517.9 324.7 L522.9 322.4 L527.9 320.0 L532.9 317.6 L537.9 315.1 L542.9 312.6 L547.9 310.0 L552.9 307.4 L557.9 304.7 L562.9 301.9 L567.9 299.2 L572.9 296.3 L577.9 293.4 L582.9 290.4 L587.9 287.4 L592.9 284.3 L597.9 281.2 L602.8 278.0 L607.8 274.7 L612.8 271.3 L617.8 267.9 L622.8 264.4 L627.8 260.9 L632.8 257.2 L637.8 253.5 L642.8 249.7 L647.8 245.9 L652.8 241.9 L657.8 237.9 L662.8 233.8 L667.8 229.6" stroke="#dd22dd" fill="none" stroke-width="1.5" stroke-dasharray="5.5 4"/><path d="M68.4 418.2 L73.4 417.9 L78.4 417.5 L83.4 417.2 L88.4 416.8 L93.4 416.4 L98.4 416.1 L103.4 415.7 L108.4 415.3 L113.4 414.9 L118.3 414.5 L123.3 414.1 L128.3 413.7 L133.3 413.3 L138.3 412.9 L143.3 412.4 L148.3 412.0 L153.3 411.6 L158.3 411.1 L163.3 410.6 L168.3 410.2 L173.3 409.7 L178.3 409.2 L183.3 408.7 L188.3 408.2 L193.3 407.7 L198.3 407.2 L203.3 406.7 L208.3 406.1 L213.3 405.6 L218.2 405.0 L223.2 404.5 L228.2 403.9 L233.2 403.3 L238.2 402.7 L243.2 402.1 L248.2 401.5 L253.2 400.9 L258.2 400.2 L263.2 399.6 L268.2 398.9 L273.2 398.3 L278.2 397.6 L283.2 396.9 L288.2 396.2 L293.2 395.5 L298.2 394.7 L303.2 394.0 L308.2 393.3 L313.1 392.5 L318.1 391.7 L323.1 390.9 L328.1 390.1 L333.1 389.3 L338.1 388.5 L343.1 387.6 L348.1 386.8 L353.1 385.9 L358.1 385.0 L363.1 384.1 L368.1 383.2 L373.1 382.2 L378.1 381.3 L383.1 380.3 L388.1 379.3 L393.1 378.3 L398.1 377.3 L403.1 376.3 L408.0 375.2 L413.0 374.1 L418.0 373.1 L423.0 372.0 L428.0 370.8 L433.0 369.7 L438.0 368.5 L443.0 367.3 L448.0 366.1 L453.0 364.9 L458.0 363.6 L463.0 362.4 L468.0 361.1 L473.0 359.8 L478.0 358.4 L483.0 357.1 L488.0 355.7 L493.0 354.3 L498.0 352.9 L503.0 351.4 L507.9 350.0 L512.9 348.5 L517.9 346.9 L522.9 345.4 L527.9 343.8 L532.9 342.2 L537.9 340.6 L542.9 338.9 L547.9 337.2 L552.9 335.5 L557.9 333.7 L562.9 332.0 L567.9 330.2 L572.9 328.3 L577.9 326.4 L582.9 324.5 L587.9 322.6 L592.9 320.6 L597.9 318.6 L602.8 316.6 L607.8 314.5 L612.8 312.4 L617.8 310.3 L622.8 308.1 L627.8 305.9 L632.8 303.7 L637.8 301.4 L642.8 299.0 L647.8 296.7 L652.8 294.3 L657.8 291.8 L662.8 289.3 L667.8 286.8" stroke="#d02020" fill="none" stroke-width="1.5" stroke-dasharray="5.5 4"/><path d="M68.4 415.2 L73.4 414.9 L78.4 414.7 L83.4 414.4 L88.4 414.1 L93.4 413.8 L98.4 413.5 L103.4 413.2 L108.4 412.9 L113.4 412.6 L118.3 412.3 L123.3 412.0 L128.3 411.6 L133.3 411.3 L138.3 411.0 L143.3 410.7 L148.3 410.3 L153.3 410.0 L158.3 409.7 L163.3 409.3 L168.3 409.0 L173.3 408.6 L178.3 408.2 L183.3 407.9 L188.3 407.5 L193.3 407.1 L198.3 406.8 L203.3 406.4 L208.3 406.0 L213.3 405.6 L218.2 405.2 L223.2 404.8 L228.2 404.4 L233.2 404.0 L238.2 403.6 L243.2 403.2 L248.2 402.8 L253.2 402.3 L258.2 401.9 L263.2 401.4 L268.2 401.0 L273.2 400.6 L278.2 400.1 L283.2 399.6 L288.2 399.2 L293.2 398.7 L298.2 398.2 L303.2 397.7 L308.2 397.2 L313.1 396.7 L318.1 396.2 L323.1 395.7 L328.1 395.2 L333.1 394.7 L338.1 394.2 L343.1 393.6 L348.1 393.1 L353.1 392.6 L358.1 392.0 L363.1 391.4 L368.1 390.9 L373.1 390.3 L378.1 389.7 L383.1 389.1 L388.1 388.5 L393.1 387.9 L398.1 387.3 L403.1 386.7 L408.0 386.1 L413.0 385.5 L418.0 384.8 L423.0 384.2 L428.0 383.5 L433.0 382.9 L438.0 382.2 L443.0 381.5 L448.0 380.8 L453.0 380.1 L458.0 379.4 L463.0 378.7 L468.0 378.0 L473.0 377.3 L478.0 376.5 L483.0 375.8 L488.0 375.0 L493.0 374.3 L498.0 373.5 L503.0 372.7 L507.9 371.9 L512.9 371.1 L517.9 370.3 L522.9 369.5 L527.9 368.6 L532.9 367.8 L537.9 367.0 L542.9 366.1 L547.9 365.2 L552.9 364.3 L557.9 363.4 L562.9 362.5 L567.9 361.6 L572.9 360.7 L577.9 359.7 L582.9 358.8 L587.9 357.8 L592.9 356.9 L597.9 355.9 L602.8 354.9 L607.8 353.9 L612.8 352.9 L617.8 351.8 L622.8 350.8 L627.8 349.7 L632.8 348.6 L637.8 347.6 L642.8 346.5 L647.8 345.4 L652.8 344.2 L657.8 343.1 L662.8 341.9 L667.8 340.8" stroke="#000000" fill="none" stroke-width="1.5" stroke-dasharray="5.5 4"/></g>
<g stroke-width="1.35"><path d="M91.3 889.4L106.1 889.4L98.7 902.6Z" stroke="#1f6a2c" fill="none"/><path d="M91.3 889.4L106.1 889.4L98.7 902.6Z" stroke="#33d333" fill="none"/><path d="M91.3 889.4L106.1 889.4L98.7 902.6Z" stroke="#46e2e2" fill="none"/><path d="M91.3 889.4L106.1 889.4L98.7 902.6Z" stroke="#1c1ca8" fill="none"/><path d="M91.3 889.4L106.1 889.4L98.7 902.6Z" stroke="#8a5436" fill="none"/><path d="M91.3 889.4L106.1 889.4L98.7 902.6Z" stroke="#dd2ddd" fill="none"/><path d="M91.3 889.4L106.1 889.4L98.7 902.6Z" stroke="#d02626" fill="none"/><path d="M91.3 889.4L106.1 889.4L98.7 902.6Z" stroke="#7d868e" fill="none"/><path d="M91.3 889.4L106.1 889.4L98.7 902.6Z" stroke="#000000" fill="none"/><path d="M140.1 884.5L147.2 893.2L140.1 901.9L133.0 893.2Z" stroke="#1f6a2c" fill="none"/><path d="M140.1 884.5L147.2 893.2L140.1 901.9L133.0 893.2Z" stroke="#33d333" fill="none"/><path d="M140.1 884.5L147.2 893.2L140.1 901.9L133.0 893.2Z" stroke="#46e2e2" fill="none"/><path d="M140.1 884.5L147.2 893.2L140.1 901.9L133.0 893.2Z" stroke="#1c1ca8" fill="none"/><path d="M140.1 884.5L147.2 893.2L140.1 901.9L133.0 893.2Z" stroke="#8a5436" fill="none"/><path d="M140.1 884.5L147.2 893.2L140.1 901.9L133.0 893.2Z" stroke="#dd2ddd" fill="none"/><path d="M140.1 884.5L147.2 893.2L140.1 901.9L133.0 893.2Z" stroke="#d02626" fill="none"/><path d="M140.1 884.5L147.2 893.2L140.1 901.9L133.0 893.2Z" stroke="#7d868e" fill="none"/><path d="M140.1 884.5L147.2 893.2L140.1 901.9L133.0 893.2Z" stroke="#000000" fill="none"/><path d="M152.0 889.2L166.8 889.2L159.4 902.4Z" stroke="#1f6a2c" fill="none"/><path d="M152.0 889.2L166.8 889.2L159.4 902.4Z" stroke="#33d333" fill="none"/><path d="M152.0 889.2L166.8 889.2L159.4 902.4Z" stroke="#46e2e2" fill="none"/><path d="M152.0 889.2L166.8 889.2L159.4 902.4Z" stroke="#1c1ca8" fill="none"/><path d="M152.0 889.2L166.8 889.2L159.4 902.4Z" stroke="#8a5436" fill="none"/><path d="M152.0 889.2L166.8 889.2L159.4 902.4Z" stroke="#dd2ddd" fill="none"/><path d="M152.0 889.2L166.8 889.2L159.4 902.4Z" stroke="#d02626" fill="none"/><path d="M152.0 889.2L166.8 889.2L159.4 902.4Z" stroke="#7d868e" fill="none"/><path d="M152.0 889.2L166.8 889.2L159.4 902.4Z" stroke="#000000" fill="none"/><path d="M168.0 888.8L182.8 888.8L175.4 902.0Z" stroke="#1f6a2c" fill="none"/><path d="M168.0 888.8L182.8 888.8L175.4 902.0Z" stroke="#33d333" fill="none"/><path d="M168.0 888.8L182.8 888.8L175.4 902.0Z" stroke="#46e2e2" fill="none"/><path d="M168.0 888.8L182.8 888.8L175.4 902.0Z" stroke="#1c1ca8" fill="none"/><path d="M168.0 888.8L182.8 888.8L175.4 902.0Z" stroke="#8a5436" fill="none"/><path d="M168.0 888.8L182.8 888.8L175.4 902.0Z" stroke="#dd2ddd" fill="none"/><path d="M168.0 888.8L182.8 888.8L175.4 902.0Z" stroke="#d02626" fill="none"/><path d="M168.0 888.8L182.8 888.8L175.4 902.0Z" stroke="#7d868e" fill="none"/><path d="M168.0 888.8L182.8 888.8L175.4 902.0Z" stroke="#000000" fill="none"/><circle cx="180.2" cy="893.7" r="7.1" stroke="#1f6a2c" fill="none"/><circle cx="180.2" cy="893.7" r="7.1" stroke="#33d333" fill="none"/><circle cx="180.2" cy="893.7" r="7.1" stroke="#46e2e2" fill="none"/><circle cx="180.2" cy="893.7" r="7.1" stroke="#1c1ca8" fill="none"/><circle cx="180.2" cy="893.7" r="7.1" stroke="#8a5436" fill="none"/><circle cx="180.2" cy="893.7" r="7.1" stroke="#dd2ddd" fill="none"/><circle cx="180.2" cy="893.7" r="7.1" stroke="#d02626" fill="none"/><circle cx="180.2" cy="893.7" r="7.1" stroke="#7d868e" fill="none"/><circle cx="180.2" cy="893.7" r="7.1" stroke="#000000" fill="none"/><path d="M190.1 889.8L204.9 889.8L197.5 903.0Z" stroke="#1f6a2c" fill="none"/><path d="M190.1 889.8L204.9 889.8L197.5 903.0Z" stroke="#33d333" fill="none"/><path d="M190.1 889.8L204.9 889.8L197.5 903.0Z" stroke="#46e2e2" fill="none"/><path d="M190.1 889.8L204.9 889.8L197.5 903.0Z" stroke="#1c1ca8" fill="none"/><path d="M190.1 889.8L204.9 889.8L197.5 903.0Z" stroke="#8a5436" fill="none"/><path d="M190.1 889.8L204.9 889.8L197.5 903.0Z" stroke="#dd2ddd" fill="none"/><path d="M190.1 889.8L204.9 889.8L197.5 903.0Z" stroke="#d02626" fill="none"/><path d="M190.1 889.8L204.9 889.8L197.5 903.0Z" stroke="#7d868e" fill="none"/><path d="M190.1 889.8L204.9 889.8L197.5 903.0Z" stroke="#000000" fill="none"/><path d="M176.4 863.4L191.2 863.4L183.8 876.6Z" stroke="#1f6a2c" fill="none"/><path d="M176.4 858.6L191.2 858.6L183.8 871.8Z" stroke="#33d333" fill="none"/><path d="M176.4 853.8L191.2 853.8L183.8 867.0Z" stroke="#46e2e2" fill="none"/><path d="M176.4 849.0L191.2 849.0L183.8 862.2Z" stroke="#1c1ca8" fill="none"/><path d="M176.4 844.2L191.2 844.2L183.8 857.4Z" stroke="#8a5436" fill="none"/><path d="M176.4 839.4L191.2 839.4L183.8 852.6Z" stroke="#dd2ddd" fill="none"/><path d="M176.4 834.6L191.2 834.6L183.8 847.8Z" stroke="#d02626" fill="none"/><path d="M176.4 829.8L191.2 829.8L183.8 843.0Z" stroke="#7d868e" fill="none"/><path d="M176.4 825.0L191.2 825.0L183.8 838.2Z" stroke="#000000" fill="none"/><path d="M213.7 883.4L228.5 883.4L221.1 896.6Z" stroke="#1f6a2c" fill="none"/><path d="M213.7 879.8L228.5 879.8L221.1 893.0Z" stroke="#33d333" fill="none"/><path d="M213.7 876.1L228.5 876.1L221.1 889.4Z" stroke="#46e2e2" fill="none"/><path d="M213.7 872.5L228.5 872.5L221.1 885.7Z" stroke="#1c1ca8" fill="none"/><path d="M213.7 868.9L228.5 868.9L221.1 882.1Z" stroke="#8a5436" fill="none"/><path d="M213.7 865.3L228.5 865.3L221.1 878.5Z" stroke="#dd2ddd" fill="none"/><path d="M213.7 861.6L228.5 861.6L221.1 874.9Z" stroke="#d02626" fill="none"/><path d="M213.7 858.0L228.5 858.0L221.1 871.2Z" stroke="#7d868e" fill="none"/><path d="M213.7 854.4L228.5 854.4L221.1 867.6Z" stroke="#000000" fill="none"/><circle cx="203.4" cy="891.0" r="7.1" stroke="#1f6a2c" fill="none"/><circle cx="203.4" cy="890.1" r="7.1" stroke="#33d333" fill="none"/><circle cx="203.4" cy="889.2" r="7.1" stroke="#46e2e2" fill="none"/><circle cx="203.4" cy="888.4" r="7.1" stroke="#1c1ca8" fill="none"/><circle cx="203.4" cy="887.5" r="7.1" stroke="#8a5436" fill="none"/><circle cx="203.4" cy="886.6" r="7.1" stroke="#dd2ddd" fill="none"/><circle cx="203.4" cy="885.8" r="7.1" stroke="#d02626" fill="none"/><circle cx="203.4" cy="884.9" r="7.1" stroke="#7d868e" fill="none"/><circle cx="203.4" cy="884.0" r="7.1" stroke="#000000" fill="none"/><circle cx="203.4" cy="873.2" r="7.1" stroke="#000" fill="none"/><circle cx="238.9" cy="866.3" r="7.1" stroke="#1f6a2c" fill="none"/><circle cx="238.9" cy="862.0" r="7.1" stroke="#33d333" fill="none"/><circle cx="238.9" cy="857.8" r="7.1" stroke="#46e2e2" fill="none"/><circle cx="238.9" cy="853.5" r="7.1" stroke="#1c1ca8" fill="none"/><circle cx="238.9" cy="849.2" r="7.1" stroke="#8a5436" fill="none"/><circle cx="238.9" cy="845.0" r="7.1" stroke="#dd2ddd" fill="none"/><circle cx="238.9" cy="840.7" r="7.1" stroke="#d02626" fill="none"/><circle cx="238.9" cy="836.5" r="7.1" stroke="#7d868e" fill="none"/><circle cx="238.9" cy="832.2" r="7.1" stroke="#000000" fill="none"/><circle cx="241.1" cy="888.5" r="7.1" stroke="#1f6a2c" fill="none"/><circle cx="241.1" cy="887.5" r="7.1" stroke="#33d333" fill="none"/><circle cx="241.1" cy="886.5" r="7.1" stroke="#46e2e2" fill="none"/><circle cx="241.1" cy="885.5" r="7.1" stroke="#1c1ca8" fill="none"/><circle cx="241.1" cy="884.5" r="7.1" stroke="#8a5436" fill="none"/><circle cx="241.1" cy="883.4" r="7.1" stroke="#dd2ddd" fill="none"/><circle cx="241.1" cy="882.4" r="7.1" stroke="#d02626" fill="none"/><circle cx="241.1" cy="881.4" r="7.1" stroke="#7d868e" fill="none"/><circle cx="241.1" cy="880.4" r="7.1" stroke="#000000" fill="none"/><circle cx="250.7" cy="890.7" r="7.1" stroke="#1f6a2c" fill="none"/><circle cx="250.7" cy="890.7" r="7.1" stroke="#33d333" fill="none"/><circle cx="250.7" cy="890.7" r="7.1" stroke="#46e2e2" fill="none"/><circle cx="250.7" cy="890.7" r="7.1" stroke="#1c1ca8" fill="none"/><circle cx="250.7" cy="890.7" r="7.1" stroke="#8a5436" fill="none"/><circle cx="250.7" cy="890.7" r="7.1" stroke="#dd2ddd" fill="none"/><circle cx="250.7" cy="890.7" r="7.1" stroke="#d02626" fill="none"/><circle cx="250.7" cy="890.7" r="7.1" stroke="#7d868e" fill="none"/><circle cx="250.7" cy="890.7" r="7.1" stroke="#000000" fill="none"/><path d="M256.6 881.4L271.4 881.4L264.0 894.6Z" stroke="#1f6a2c" fill="none"/><path d="M256.6 881.4L271.4 881.4L264.0 894.6Z" stroke="#33d333" fill="none"/><path d="M256.6 881.4L271.4 881.4L264.0 894.6Z" stroke="#46e2e2" fill="none"/><path d="M256.6 881.4L271.4 881.4L264.0 894.6Z" stroke="#1c1ca8" fill="none"/><path d="M256.6 881.4L271.4 881.4L264.0 894.6Z" stroke="#8a5436" fill="none"/><path d="M256.6 881.4L271.4 881.4L264.0 894.6Z" stroke="#dd2ddd" fill="none"/><path d="M256.6 881.4L271.4 881.4L264.0 894.6Z" stroke="#d02626" fill="none"/><path d="M256.6 881.4L271.4 881.4L264.0 894.6Z" stroke="#7d868e" fill="none"/><path d="M256.6 881.4L271.4 881.4L264.0 894.6Z" stroke="#000000" fill="none"/><path d="M284.8 879.3L291.9 888.0L284.8 896.7L277.7 888.0Z" stroke="#1f6a2c" fill="none"/><path d="M284.8 877.8L291.9 886.5L284.8 895.2L277.7 886.5Z" stroke="#33d333" fill="none"/><path d="M284.8 876.3L291.9 885.0L284.8 893.7L277.7 885.0Z" stroke="#46e2e2" fill="none"/><path d="M284.8 874.8L291.9 883.5L284.8 892.2L277.7 883.5Z" stroke="#1c1ca8" fill="none"/><path d="M284.8 873.3L291.9 882.0L284.8 890.7L277.7 882.0Z" stroke="#8a5436" fill="none"/><path d="M284.8 871.8L291.9 880.5L284.8 889.2L277.7 880.5Z" stroke="#dd2ddd" fill="none"/><path d="M284.8 870.3L291.9 879.0L284.8 887.7L277.7 879.0Z" stroke="#d02626" fill="none"/><path d="M284.8 868.8L291.9 877.5L284.8 886.2L277.7 877.5Z" stroke="#7d868e" fill="none"/><path d="M284.8 867.3L291.9 876.0L284.8 884.7L277.7 876.0Z" stroke="#000000" fill="none"/><path d="M292.0 877.3L299.1 886.0L292.0 894.7L284.9 886.0Z" stroke="#1f6a2c" fill="none"/><path d="M292.0 876.2L299.1 884.9L292.0 893.6L284.9 884.9Z" stroke="#33d333" fill="none"/><path d="M292.0 875.0L299.1 883.8L292.0 892.5L284.9 883.8Z" stroke="#46e2e2" fill="none"/><path d="M292.0 873.9L299.1 882.6L292.0 891.3L284.9 882.6Z" stroke="#1c1ca8" fill="none"/><path d="M292.0 872.8L299.1 881.5L292.0 890.2L284.9 881.5Z" stroke="#8a5436" fill="none"/><path d="M292.0 871.7L299.1 880.4L292.0 889.1L284.9 880.4Z" stroke="#dd2ddd" fill="none"/><path d="M292.0 870.5L299.1 879.2L292.0 888.0L284.9 879.2Z" stroke="#d02626" fill="none"/><path d="M292.0 869.4L299.1 878.1L292.0 886.8L284.9 878.1Z" stroke="#7d868e" fill="none"/><path d="M292.0 868.3L299.1 877.0L292.0 885.7L284.9 877.0Z" stroke="#000000" fill="none"/><path d="M299.0 879.3L306.1 888.0L299.0 896.7L291.9 888.0Z" stroke="#1f6a2c" fill="none"/><path d="M299.0 877.5L306.1 886.2L299.0 895.0L291.9 886.2Z" stroke="#33d333" fill="none"/><path d="M299.0 875.8L306.1 884.5L299.0 893.2L291.9 884.5Z" stroke="#46e2e2" fill="none"/><path d="M299.0 874.0L306.1 882.8L299.0 891.5L291.9 882.8Z" stroke="#1c1ca8" fill="none"/><path d="M299.0 872.3L306.1 881.0L299.0 889.7L291.9 881.0Z" stroke="#8a5436" fill="none"/><path d="M299.0 870.5L306.1 879.2L299.0 888.0L291.9 879.2Z" stroke="#dd2ddd" fill="none"/><path d="M299.0 868.8L306.1 877.5L299.0 886.2L291.9 877.5Z" stroke="#d02626" fill="none"/><path d="M299.0 867.0L306.1 875.8L299.0 884.5L291.9 875.8Z" stroke="#7d868e" fill="none"/><path d="M299.0 865.3L306.1 874.0L299.0 882.7L291.9 874.0Z" stroke="#000000" fill="none"/><circle cx="274.4" cy="870.0" r="7.1" stroke="#1f6a2c" fill="none"/><circle cx="274.4" cy="869.0" r="7.1" stroke="#33d333" fill="none"/><circle cx="274.4" cy="868.0" r="7.1" stroke="#46e2e2" fill="none"/><circle cx="274.4" cy="867.0" r="7.1" stroke="#1c1ca8" fill="none"/><circle cx="274.4" cy="866.0" r="7.1" stroke="#8a5436" fill="none"/><circle cx="274.4" cy="864.9" r="7.1" stroke="#dd2ddd" fill="none"/><circle cx="274.4" cy="863.9" r="7.1" stroke="#d02626" fill="none"/><circle cx="274.4" cy="862.9" r="7.1" stroke="#7d868e" fill="none"/><circle cx="274.4" cy="861.9" r="7.1" stroke="#000000" fill="none"/><path d="M279.3 875.4L294.1 875.4L286.7 888.6Z" stroke="#1f6a2c" fill="none"/><path d="M279.3 874.5L294.1 874.5L286.7 887.7Z" stroke="#33d333" fill="none"/><path d="M279.3 873.6L294.1 873.6L286.7 886.9Z" stroke="#46e2e2" fill="none"/><path d="M279.3 872.8L294.1 872.8L286.7 886.0Z" stroke="#1c1ca8" fill="none"/><path d="M279.3 871.9L294.1 871.9L286.7 885.1Z" stroke="#8a5436" fill="none"/><path d="M279.3 871.0L294.1 871.0L286.7 884.2Z" stroke="#dd2ddd" fill="none"/><path d="M279.3 870.1L294.1 870.1L286.7 883.4Z" stroke="#d02626" fill="none"/><path d="M279.3 869.3L294.1 869.3L286.7 882.5Z" stroke="#7d868e" fill="none"/><path d="M279.3 868.4L294.1 868.4L286.7 881.6Z" stroke="#000000" fill="none"/><path d="M306.5 805.3L313.6 814.0L306.5 822.7L299.4 814.0Z" stroke="#1f6a2c" fill="none"/><path d="M306.5 798.0L313.6 806.7L306.5 815.4L299.4 806.7Z" stroke="#33d333" fill="none"/><path d="M306.5 790.8L313.6 799.5L306.5 808.2L299.4 799.5Z" stroke="#46e2e2" fill="none"/><path d="M306.5 783.5L313.6 792.2L306.5 800.9L299.4 792.2Z" stroke="#1c1ca8" fill="none"/><path d="M306.5 776.2L313.6 784.9L306.5 793.6L299.4 784.9Z" stroke="#8a5436" fill="none"/><path d="M306.5 768.9L313.6 777.6L306.5 786.3L299.4 777.6Z" stroke="#dd2ddd" fill="none"/><path d="M306.5 761.6L313.6 770.3L306.5 779.0L299.4 770.3Z" stroke="#d02626" fill="none"/><path d="M306.5 754.4L313.6 763.1L306.5 771.8L299.4 763.1Z" stroke="#7d868e" fill="none"/><path d="M306.5 747.1L313.6 755.8L306.5 764.5L299.4 755.8Z" stroke="#000000" fill="none"/><circle cx="306.5" cy="859.0" r="7.1" stroke="#1f6a2c" fill="none"/><circle cx="306.5" cy="855.5" r="7.1" stroke="#33d333" fill="none"/><circle cx="306.5" cy="851.9" r="7.1" stroke="#46e2e2" fill="none"/><circle cx="306.5" cy="848.4" r="7.1" stroke="#1c1ca8" fill="none"/><circle cx="306.5" cy="844.9" r="7.1" stroke="#8a5436" fill="none"/><circle cx="306.5" cy="841.3" r="7.1" stroke="#dd2ddd" fill="none"/><circle cx="306.5" cy="837.8" r="7.1" stroke="#d02626" fill="none"/><circle cx="306.5" cy="834.2" r="7.1" stroke="#7d868e" fill="none"/><circle cx="306.5" cy="830.7" r="7.1" stroke="#000000" fill="none"/><path d="M321.6 819.2L328.7 827.9L321.6 836.6L314.5 827.9Z" stroke="#1f6a2c" fill="none"/><path d="M321.6 823.9L328.7 832.6L321.6 841.3L314.5 832.6Z" stroke="#33d333" fill="none"/><path d="M321.6 828.5L328.7 837.2L321.6 845.9L314.5 837.2Z" stroke="#46e2e2" fill="none"/><path d="M321.6 833.2L328.7 841.9L321.6 850.6L314.5 841.9Z" stroke="#1c1ca8" fill="none"/><path d="M321.6 837.8L328.7 846.5L321.6 855.2L314.5 846.5Z" stroke="#8a5436" fill="none"/><path d="M321.6 842.5L328.7 851.2L321.6 859.9L314.5 851.2Z" stroke="#dd2ddd" fill="none"/><path d="M321.6 847.2L328.7 855.9L321.6 864.6L314.5 855.9Z" stroke="#d02626" fill="none"/><path d="M321.6 851.8L328.7 860.5L321.6 869.2L314.5 860.5Z" stroke="#7d868e" fill="none"/><path d="M321.6 856.5L328.7 865.2L321.6 873.9L314.5 865.2Z" stroke="#000000" fill="none"/><circle cx="341.3" cy="859.0" r="7.1" stroke="#1f6a2c" fill="none"/><circle cx="341.3" cy="855.9" r="7.1" stroke="#33d333" fill="none"/><circle cx="341.3" cy="852.8" r="7.1" stroke="#46e2e2" fill="none"/><circle cx="341.3" cy="849.7" r="7.1" stroke="#1c1ca8" fill="none"/><circle cx="341.3" cy="846.6" r="7.1" stroke="#8a5436" fill="none"/><circle cx="341.3" cy="843.5" r="7.1" stroke="#dd2ddd" fill="none"/><circle cx="341.3" cy="840.4" r="7.1" stroke="#d02626" fill="none"/><circle cx="341.3" cy="837.3" r="7.1" stroke="#7d868e" fill="none"/><circle cx="341.3" cy="834.2" r="7.1" stroke="#000000" fill="none"/><circle cx="354.9" cy="873.0" r="7.1" stroke="#1f6a2c" fill="none"/><circle cx="354.9" cy="869.5" r="7.1" stroke="#33d333" fill="none"/><circle cx="354.9" cy="866.0" r="7.1" stroke="#46e2e2" fill="none"/><circle cx="354.9" cy="862.5" r="7.1" stroke="#1c1ca8" fill="none"/><circle cx="354.9" cy="859.0" r="7.1" stroke="#8a5436" fill="none"/><circle cx="354.9" cy="855.5" r="7.1" stroke="#dd2ddd" fill="none"/><circle cx="354.9" cy="852.0" r="7.1" stroke="#d02626" fill="none"/><circle cx="354.9" cy="848.5" r="7.1" stroke="#7d868e" fill="none"/><circle cx="354.9" cy="845.0" r="7.1" stroke="#000000" fill="none"/><circle cx="357.0" cy="745.0" r="7.1" stroke="#1f6a2c" fill="none"/><circle cx="357.0" cy="742.1" r="7.1" stroke="#33d333" fill="none"/><circle cx="357.0" cy="739.1" r="7.1" stroke="#46e2e2" fill="none"/><circle cx="357.0" cy="736.2" r="7.1" stroke="#1c1ca8" fill="none"/><circle cx="357.0" cy="733.3" r="7.1" stroke="#8a5436" fill="none"/><circle cx="357.0" cy="730.4" r="7.1" stroke="#dd2ddd" fill="none"/><circle cx="357.0" cy="727.5" r="7.1" stroke="#d02626" fill="none"/><circle cx="357.0" cy="724.5" r="7.1" stroke="#7d868e" fill="none"/><circle cx="357.0" cy="721.6" r="7.1" stroke="#000000" fill="none"/><circle cx="354.7" cy="766.9" r="7.1" stroke="#1f6a2c" fill="none"/><circle cx="362.0" cy="767.8" r="7.1" stroke="#33d333" fill="none"/><circle cx="362.0" cy="770.5" r="7.1" stroke="#46e2e2" fill="none"/><circle cx="362.0" cy="775.0" r="7.1" stroke="#1c1ca8" fill="none"/><circle cx="362.0" cy="777.0" r="7.1" stroke="#8a5436" fill="none"/><circle cx="362.0" cy="781.2" r="7.1" stroke="#dd2ddd" fill="none"/><circle cx="362.0" cy="784.7" r="7.1" stroke="#d02626" fill="none"/><circle cx="362.0" cy="779.0" r="7.1" stroke="#7d868e" fill="none"/><circle cx="362.2" cy="755.4" r="7.1" stroke="#000000" fill="none"/><circle cx="375.8" cy="864.4" r="7.1" stroke="#1f6a2c" fill="none"/><circle cx="375.8" cy="860.6" r="7.1" stroke="#33d333" fill="none"/><circle cx="375.8" cy="856.9" r="7.1" stroke="#46e2e2" fill="none"/><circle cx="375.8" cy="853.1" r="7.1" stroke="#1c1ca8" fill="none"/><circle cx="375.8" cy="849.3" r="7.1" stroke="#8a5436" fill="none"/><circle cx="375.8" cy="845.5" r="7.1" stroke="#dd2ddd" fill="none"/><circle cx="375.8" cy="841.8" r="7.1" stroke="#d02626" fill="none"/><circle cx="375.8" cy="838.0" r="7.1" stroke="#7d868e" fill="none"/><circle cx="375.8" cy="834.2" r="7.1" stroke="#000000" fill="none"/><circle cx="424.0" cy="659.6" r="7.1" stroke="#1f6a2c" fill="none"/><circle cx="424.0" cy="652.9" r="7.1" stroke="#33d333" fill="none"/><circle cx="424.0" cy="646.2" r="7.1" stroke="#46e2e2" fill="none"/><circle cx="424.0" cy="639.5" r="7.1" stroke="#1c1ca8" fill="none"/><circle cx="424.0" cy="632.8" r="7.1" stroke="#8a5436" fill="none"/><circle cx="424.0" cy="626.1" r="7.1" stroke="#dd2ddd" fill="none"/><circle cx="424.0" cy="619.4" r="7.1" stroke="#d02626" fill="none"/><circle cx="424.0" cy="612.7" r="7.1" stroke="#7d868e" fill="none"/><circle cx="424.0" cy="606.0" r="7.1" stroke="#000000" fill="none"/><circle cx="463.8" cy="618.0" r="7.1" stroke="#1f6a2c" fill="none"/><circle cx="463.8" cy="613.3" r="7.1" stroke="#33d333" fill="none"/><circle cx="463.8" cy="608.7" r="7.1" stroke="#46e2e2" fill="none"/><circle cx="463.8" cy="604.0" r="7.1" stroke="#1c1ca8" fill="none"/><circle cx="463.8" cy="599.4" r="7.1" stroke="#8a5436" fill="none"/><circle cx="463.8" cy="594.7" r="7.1" stroke="#dd2ddd" fill="none"/><circle cx="463.8" cy="590.0" r="7.1" stroke="#d02626" fill="none"/><circle cx="463.8" cy="585.4" r="7.1" stroke="#7d868e" fill="none"/><circle cx="463.8" cy="580.7" r="7.1" stroke="#000000" fill="none"/><circle cx="480.0" cy="642.0" r="7.1" stroke="#1f6a2c" fill="none"/><circle cx="480.0" cy="634.5" r="7.1" stroke="#33d333" fill="none"/><circle cx="480.0" cy="627.0" r="7.1" stroke="#46e2e2" fill="none"/><circle cx="480.0" cy="619.5" r="7.1" stroke="#1c1ca8" fill="none"/><circle cx="480.0" cy="612.0" r="7.1" stroke="#8a5436" fill="none"/><circle cx="480.0" cy="604.5" r="7.1" stroke="#dd2ddd" fill="none"/><circle cx="480.0" cy="597.0" r="7.1" stroke="#d02626" fill="none"/><circle cx="480.0" cy="589.5" r="7.1" stroke="#7d868e" fill="none"/><circle cx="480.0" cy="582.0" r="7.1" stroke="#000000" fill="none"/><circle cx="481.2" cy="558.0" r="7.1" stroke="#1f6a2c" fill="none"/><circle cx="481.2" cy="555.8" r="7.1" stroke="#33d333" fill="none"/><circle cx="481.2" cy="553.5" r="7.1" stroke="#46e2e2" fill="none"/><circle cx="481.2" cy="551.2" r="7.1" stroke="#1c1ca8" fill="none"/><circle cx="481.2" cy="549.0" r="7.1" stroke="#8a5436" fill="none"/><circle cx="481.2" cy="546.8" r="7.1" stroke="#dd2ddd" fill="none"/><circle cx="481.2" cy="544.5" r="7.1" stroke="#d02626" fill="none"/><circle cx="481.2" cy="542.2" r="7.1" stroke="#7d868e" fill="none"/><circle cx="481.2" cy="540.0" r="7.1" stroke="#000000" fill="none"/><circle cx="514.0" cy="606.0" r="7.1" stroke="#1f6a2c" fill="none"/><circle cx="514.0" cy="602.5" r="7.1" stroke="#33d333" fill="none"/><circle cx="514.0" cy="599.0" r="7.1" stroke="#46e2e2" fill="none"/><circle cx="514.0" cy="595.5" r="7.1" stroke="#1c1ca8" fill="none"/><circle cx="514.0" cy="592.0" r="7.1" stroke="#8a5436" fill="none"/><circle cx="514.0" cy="588.5" r="7.1" stroke="#dd2ddd" fill="none"/><circle cx="514.0" cy="585.0" r="7.1" stroke="#d02626" fill="none"/><circle cx="514.0" cy="581.5" r="7.1" stroke="#7d868e" fill="none"/><circle cx="514.0" cy="578.0" r="7.1" stroke="#000000" fill="none"/><circle cx="538.0" cy="590.0" r="7.1" stroke="#1f6a2c" fill="none"/><circle cx="538.0" cy="582.5" r="7.1" stroke="#33d333" fill="none"/><circle cx="538.0" cy="575.0" r="7.1" stroke="#46e2e2" fill="none"/><circle cx="538.0" cy="567.5" r="7.1" stroke="#1c1ca8" fill="none"/><circle cx="538.0" cy="560.0" r="7.1" stroke="#8a5436" fill="none"/><circle cx="538.0" cy="552.5" r="7.1" stroke="#dd2ddd" fill="none"/><circle cx="538.0" cy="545.0" r="7.1" stroke="#d02626" fill="none"/><circle cx="538.0" cy="537.5" r="7.1" stroke="#7d868e" fill="none"/><circle cx="538.0" cy="530.0" r="7.1" stroke="#000000" fill="none"/><circle cx="558.0" cy="625.5" r="7.1" stroke="#1f6a2c" fill="none"/><circle cx="558.0" cy="613.8" r="7.1" stroke="#33d333" fill="none"/><circle cx="558.0" cy="603.1" r="7.1" stroke="#46e2e2" fill="none"/><circle cx="558.0" cy="591.6" r="7.1" stroke="#1c1ca8" fill="none"/><circle cx="558.0" cy="580.9" r="7.1" stroke="#8a5436" fill="none"/><circle cx="558.0" cy="572.9" r="7.1" stroke="#dd2ddd" fill="none"/><circle cx="558.0" cy="565.8" r="7.1" stroke="#d02626" fill="none"/><circle cx="558.0" cy="556.0" r="7.1" stroke="#7d868e" fill="none"/><circle cx="558.0" cy="538.2" r="7.1" stroke="#000000" fill="none"/><path d="M506.5 682.5L506.5 698.3L493.3 690.4Z" stroke="#1f6a2c" fill="none"/><path d="M506.5 682.5L506.5 698.3L493.3 690.4Z" stroke="#33d333" fill="none"/><path d="M506.5 679.9L506.5 695.7L493.3 687.8Z" stroke="#46e2e2" fill="none"/><path d="M506.5 668.8L506.5 684.6L493.3 676.7Z" stroke="#1c1ca8" fill="none"/><path d="M506.5 653.7L506.5 669.5L493.3 661.6Z" stroke="#8a5436" fill="none"/><path d="M506.5 638.1L506.5 653.9L493.3 646.0Z" stroke="#dd2ddd" fill="none"/><path d="M506.5 620.1L506.5 635.9L493.3 628.0Z" stroke="#d02626" fill="none"/><path d="M506.5 598.1L506.5 613.9L493.3 606.0Z" stroke="#7d868e" fill="none"/><path d="M506.5 568.1L506.5 583.9L493.3 576.0Z" stroke="#000000" fill="none"/><path d="M524.4 850.1L524.4 865.9L511.2 858.0Z" stroke="#1f6a2c" fill="none"/><path d="M524.4 822.1L524.4 837.9L511.2 830.0Z" stroke="#33d333" fill="none"/><path d="M524.4 792.1L524.4 807.9L511.2 800.0Z" stroke="#46e2e2" fill="none"/><path d="M524.4 760.9L524.4 776.7L511.2 768.8Z" stroke="#1c1ca8" fill="none"/><path d="M524.4 729.3L524.4 745.1L511.2 737.2Z" stroke="#8a5436" fill="none"/><path d="M524.4 696.1L524.4 711.9L511.2 704.0Z" stroke="#dd2ddd" fill="none"/><path d="M524.4 662.1L524.4 677.9L511.2 670.0Z" stroke="#d02626" fill="none"/><path d="M524.4 630.1L524.4 645.9L511.2 638.0Z" stroke="#7d868e" fill="none"/><path d="M524.4 592.1L524.4 607.9L511.2 600.0Z" stroke="#000000" fill="none"/><path d="M662.9 725.1L662.9 740.9L649.7 733.0Z" stroke="#1f6a2c" fill="none"/><path d="M662.9 704.1L662.9 719.9L649.7 712.0Z" stroke="#33d333" fill="none"/><path d="M662.9 684.1L662.9 699.9L649.7 692.0Z" stroke="#46e2e2" fill="none"/><path d="M662.9 664.9L662.9 680.7L649.7 672.8Z" stroke="#1c1ca8" fill="none"/><path d="M662.9 644.9L662.9 660.7L649.7 652.8Z" stroke="#8a5436" fill="none"/><path d="M662.9 623.3L662.9 639.1L649.7 631.2Z" stroke="#dd2ddd" fill="none"/><path d="M662.9 602.1L662.9 617.9L649.7 610.0Z" stroke="#d02626" fill="none"/><path d="M662.9 576.9L662.9 592.7L649.7 584.8Z" stroke="#7d868e" fill="none"/><path d="M662.9 546.1L662.9 561.9L649.7 554.0Z" stroke="#000000" fill="none"/><circle cx="203.3" cy="874.4" r="7.8" fill="#ff00ff" stroke="none"/><circle cx="253.0" cy="838.9" r="7.8" fill="#ff00ff" stroke="none"/><circle cx="274.4" cy="864.1" r="7.8" fill="#ff00ff" stroke="none"/><circle cx="306.5" cy="833.5" r="7.8" fill="#ff00ff" stroke="none"/><circle cx="341.3" cy="862.7" r="7.8" fill="#ff00ff" stroke="none"/><circle cx="357.3" cy="752.4" r="7.8" fill="#ff00ff" stroke="none"/><circle cx="538.0" cy="668.0" r="7.8" fill="#ff00ff" stroke="none"/><circle cx="203.3" cy="889.0" r="7.8" fill="#00ffff" stroke="none"/><circle cx="253.0" cy="870.0" r="7.8" fill="#00ffff" stroke="none"/><circle cx="275.2" cy="880.4" r="7.8" fill="#00ffff" stroke="none"/><circle cx="306.5" cy="866.2" r="7.8" fill="#00ffff" stroke="none"/><circle cx="341.3" cy="880.4" r="7.8" fill="#00ffff" stroke="none"/><circle cx="357.3" cy="831.4" r="7.8" fill="#00ffff" stroke="none"/><circle cx="538.0" cy="794.0" r="7.8" fill="#00ffff" stroke="none"/></g>
<g clip-path="url(#cb)"><path d="M68.4 894.2 L73.4 894.2 L78.4 894.2 L83.4 894.2 L88.4 894.2 L93.4 894.2 L98.4 894.2 L103.4 894.2 L108.4 894.2 L113.4 894.2 L118.3 894.2 L123.3 894.2 L128.3 894.2 L133.3 894.2 L138.3 894.2 L143.3 894.2 L148.3 894.2 L153.3 894.2 L158.3 894.1 L163.3 894.1 L168.3 894.1 L173.3 894.1 L178.3 894.1 L183.3 894.1 L188.3 894.0 L193.3 894.0 L198.3 894.0 L203.3 893.9 L208.3 893.9 L213.3 893.8 L218.2 893.7 L223.2 893.6 L228.2 893.5 L233.2 893.3 L238.2 893.2 L243.2 893.0 L248.2 892.7 L253.2 892.4 L258.2 892.1 L263.2 891.6 L268.2 891.1 L273.2 890.5 L278.2 889.8 L283.2 888.9 L288.2 887.9 L293.2 886.6 L298.2 885.2 L303.2 883.4 L308.2 881.3 L313.1 878.8 L318.1 875.8 L323.1 872.4 L328.1 868.3 L333.1 863.5 L338.1 858.0 L343.1 851.6 L348.1 844.4 L353.1 836.2 L358.1 827.0 L363.1 816.9 L368.1 806.0 L373.1 794.3 L378.1 782.2 L383.1 769.8 L388.1 757.4 L393.1 745.3 L398.1 733.7 L403.1 722.9 L408.0 712.9 L413.0 704.0 L418.0 696.1 L423.0 689.2 L428.0 683.4 L433.0 678.4 L438.0 674.2 L443.0 670.7 L448.0 667.8 L453.0 665.4 L458.0 663.5 L463.0 661.9 L468.0 660.6 L473.0 659.6 L478.0 658.7 L483.0 658.1 L488.0 657.5 L493.0 657.1 L498.0 656.7 L503.0 656.4 L507.9 656.2 L512.9 656.0 L517.9 655.9 L522.9 655.8 L527.9 655.7 L532.9 655.6 L537.9 655.5 L542.9 655.5 L547.9 655.4 L552.9 655.4 L557.9 655.4 L562.9 655.4 L567.9 655.4 L572.9 655.3 L577.9 655.3 L582.9 655.3 L587.9 655.3 L592.9 655.3 L597.9 655.3 L602.8 655.3 L607.8 655.3 L612.8 655.3 L617.8 655.3 L622.8 655.3 L627.8 655.3 L632.8 655.3 L637.8 655.3 L642.8 655.3 L647.8 655.3 L652.8 655.3 L657.8 655.3 L662.8 655.3 L667.8 655.3" stroke="#33cc33" fill="none" stroke-width="1.5" stroke-dasharray="5.5 4"/><path d="M68.4 894.2 L73.4 894.2 L78.4 894.2 L83.4 894.2 L88.4 894.2 L93.4 894.2 L98.4 894.2 L103.4 894.2 L108.4 894.2 L113.4 894.2 L118.3 894.2 L123.3 894.2 L128.3 894.1 L133.3 894.1 L138.3 894.1 L143.3 894.1 L148.3 894.1 L153.3 894.1 L158.3 894.1 L163.3 894.0 L168.3 894.0 L173.3 894.0 L178.3 893.9 L183.3 893.9 L188.3 893.8 L193.3 893.8 L198.3 893.7 L203.3 893.6 L208.3 893.5 L213.3 893.3 L218.2 893.2 L223.2 893.0 L228.2 892.8 L233.2 892.6 L238.2 892.3 L243.2 891.9 L248.2 891.6 L253.2 891.1 L258.2 890.6 L263.2 889.9 L268.2 889.2 L273.2 888.3 L278.2 887.3 L283.2 886.1 L288.2 884.7 L293.2 883.0 L298.2 881.1 L303.2 878.9 L308.2 876.3 L313.1 873.3 L318.1 869.8 L323.1 865.8 L328.1 861.2 L333.1 856.0 L338.1 850.0 L343.1 843.2 L348.1 835.7 L353.1 827.3 L358.1 818.0 L363.1 808.0 L368.1 797.3 L373.1 786.0 L378.1 774.3 L383.1 762.3 L388.1 750.3 L393.1 738.5 L398.1 727.1 L403.1 716.2 L408.0 706.2 L413.0 697.0 L418.0 688.6 L423.0 681.2 L428.0 674.8 L433.0 669.1 L438.0 664.3 L443.0 660.2 L448.0 656.7 L453.0 653.8 L458.0 651.3 L463.0 649.3 L468.0 647.6 L473.0 646.2 L478.0 645.0 L483.0 644.1 L488.0 643.3 L493.0 642.7 L498.0 642.2 L503.0 641.7 L507.9 641.4 L512.9 641.1 L517.9 640.9 L522.9 640.7 L527.9 640.5 L532.9 640.4 L537.9 640.3 L542.9 640.2 L547.9 640.1 L552.9 640.1 L557.9 640.0 L562.9 640.0 L567.9 640.0 L572.9 639.9 L577.9 639.9 L582.9 639.9 L587.9 639.9 L592.9 639.9 L597.9 639.9 L602.8 639.9 L607.8 639.9 L612.8 639.9 L617.8 639.8 L622.8 639.8 L627.8 639.8 L632.8 639.8 L637.8 639.8 L642.8 639.8 L647.8 639.8 L652.8 639.8 L657.8 639.8 L662.8 639.8 L667.8 639.8" stroke="#1c1cb0" fill="none" stroke-width="1.5" stroke-dasharray="5.5 4"/><path d="M68.4 894.2 L73.4 894.2 L78.4 894.2 L83.4 894.2 L88.4 894.2 L93.4 894.2 L98.4 894.1 L103.4 894.1 L108.4 894.1 L113.4 894.1 L118.3 894.1 L123.3 894.1 L128.3 894.1 L133.3 894.1 L138.3 894.0 L143.3 894.0 L148.3 894.0 L153.3 893.9 L158.3 893.9 L163.3 893.8 L168.3 893.8 L173.3 893.7 L178.3 893.7 L183.3 893.6 L188.3 893.5 L193.3 893.4 L198.3 893.2 L203.3 893.1 L208.3 892.9 L213.3 892.7 L218.2 892.5 L223.2 892.2 L228.2 891.9 L233.2 891.5 L238.2 891.1 L243.2 890.6 L248.2 890.1 L253.2 889.5 L258.2 888.7 L263.2 887.9 L268.2 886.9 L273.2 885.8 L278.2 884.5 L283.2 883.0 L288.2 881.3 L293.2 879.4 L298.2 877.1 L303.2 874.5 L308.2 871.6 L313.1 868.3 L318.1 864.4 L323.1 860.1 L328.1 855.2 L333.1 849.7 L338.1 843.6 L343.1 836.7 L348.1 829.2 L353.1 820.9 L358.1 811.8 L363.1 802.1 L368.1 791.7 L373.1 780.7 L378.1 769.3 L383.1 757.6 L388.1 745.7 L393.1 733.9 L398.1 722.3 L403.1 711.1 L408.0 700.4 L413.0 690.4 L418.0 681.1 L423.0 672.6 L428.0 664.9 L433.0 658.1 L438.0 652.0 L443.0 646.7 L448.0 642.1 L453.0 638.1 L458.0 634.7 L463.0 631.7 L468.0 629.3 L473.0 627.1 L478.0 625.4 L483.0 623.9 L488.0 622.6 L493.0 621.5 L498.0 620.7 L503.0 619.9 L507.9 619.3 L512.9 618.8 L517.9 618.4 L522.9 618.0 L527.9 617.7 L532.9 617.4 L537.9 617.2 L542.9 617.1 L547.9 616.9 L552.9 616.8 L557.9 616.7 L562.9 616.6 L567.9 616.5 L572.9 616.5 L577.9 616.4 L582.9 616.4 L587.9 616.4 L592.9 616.3 L597.9 616.3 L602.8 616.3 L607.8 616.3 L612.8 616.3 L617.8 616.3 L622.8 616.3 L627.8 616.2 L632.8 616.2 L637.8 616.2 L642.8 616.2 L647.8 616.2 L652.8 616.2 L657.8 616.2 L662.8 616.2 L667.8 616.2" stroke="#dd22dd" fill="none" stroke-width="1.5" stroke-dasharray="5.5 4"/><path d="M68.4 894.2 L73.4 894.2 L78.4 894.2 L83.4 894.1 L88.4 894.1 L93.4 894.1 L98.4 894.1 L103.4 894.1 L108.4 894.1 L113.4 894.1 L118.3 894.0 L123.3 894.0 L128.3 894.0 L133.3 894.0 L138.3 893.9 L143.3 893.9 L148.3 893.9 L153.3 893.8 L158.3 893.7 L163.3 893.7 L168.3 893.6 L173.3 893.5 L178.3 893.4 L183.3 893.3 L188.3 893.2 L193.3 893.0 L198.3 892.8 L203.3 892.6 L208.3 892.4 L213.3 892.1 L218.2 891.8 L223.2 891.5 L228.2 891.1 L233.2 890.6 L238.2 890.1 L243.2 889.5 L248.2 888.8 L253.2 888.0 L258.2 887.1 L263.2 886.1 L268.2 884.9 L273.2 883.6 L278.2 882.0 L283.2 880.3 L288.2 878.3 L293.2 876.0 L298.2 873.4 L303.2 870.5 L308.2 867.2 L313.1 863.5 L318.1 859.3 L323.1 854.6 L328.1 849.3 L333.1 843.5 L338.1 837.0 L343.1 830.0 L348.1 822.2 L353.1 813.8 L358.1 804.7 L363.1 795.0 L368.1 784.7 L373.1 773.9 L378.1 762.7 L383.1 751.2 L388.1 739.6 L393.1 727.9 L398.1 716.3 L403.1 704.9 L408.0 693.9 L413.0 683.4 L418.0 673.5 L423.0 664.2 L428.0 655.5 L433.0 647.6 L438.0 640.4 L443.0 633.9 L448.0 628.1 L453.0 622.9 L458.0 618.3 L463.0 614.3 L468.0 610.7 L473.0 607.6 L478.0 604.9 L483.0 602.6 L488.0 600.6 L493.0 598.8 L498.0 597.3 L503.0 596.0 L507.9 594.9 L512.9 594.0 L517.9 593.2 L522.9 592.5 L527.9 591.9 L532.9 591.4 L537.9 590.9 L542.9 590.5 L547.9 590.2 L552.9 590.0 L557.9 589.7 L562.9 589.5 L567.9 589.4 L572.9 589.2 L577.9 589.1 L582.9 589.0 L587.9 588.9 L592.9 588.8 L597.9 588.8 L602.8 588.7 L607.8 588.7 L612.8 588.6 L617.8 588.6 L622.8 588.6 L627.8 588.5 L632.8 588.5 L637.8 588.5 L642.8 588.5 L647.8 588.5 L652.8 588.4 L657.8 588.4 L662.8 588.4 L667.8 588.4" stroke="#d02020" fill="none" stroke-width="1.5" stroke-dasharray="5.5 4"/><path d="M68.4 894.2 L73.4 894.2 L78.4 894.2 L83.4 894.2 L88.4 894.2 L93.4 894.1 L98.4 894.1 L103.4 894.1 L108.4 894.1 L113.4 894.1 L118.3 894.1 L123.3 894.1 L128.3 894.1 L133.3 894.0 L138.3 894.0 L143.3 894.0 L148.3 893.9 L153.3 893.9 L158.3 893.8 L163.3 893.8 L168.3 893.7 L173.3 893.6 L178.3 893.5 L183.3 893.4 L188.3 893.3 L193.3 893.1 L198.3 892.9 L203.3 892.7 L208.3 892.5 L213.3 892.2 L218.2 891.9 L223.2 891.5 L228.2 891.0 L233.2 890.5 L238.2 889.9 L243.2 889.2 L248.2 888.4 L253.2 887.5 L258.2 886.4 L263.2 885.2 L268.2 883.8 L273.2 882.2 L278.2 880.4 L283.2 878.3 L288.2 875.9 L293.2 873.2 L298.2 870.1 L303.2 866.7 L308.2 862.8 L313.1 858.5 L318.1 853.7 L323.1 848.4 L328.1 842.5 L333.1 836.0 L338.1 829.0 L343.1 821.4 L348.1 813.3 L353.1 804.6 L358.1 795.4 L363.1 785.7 L368.1 775.6 L373.1 765.2 L378.1 754.5 L383.1 743.6 L388.1 732.6 L393.1 721.6 L398.1 710.7 L403.1 699.9 L408.0 689.4 L413.0 679.2 L418.0 669.3 L423.0 659.9 L428.0 651.0 L433.0 642.5 L438.0 634.6 L443.0 627.2 L448.0 620.3 L453.0 613.9 L458.0 608.0 L463.0 602.5 L468.0 597.6 L473.0 593.1 L478.0 589.0 L483.0 585.2 L488.0 581.8 L493.0 578.8 L498.0 576.0 L503.0 573.6 L507.9 571.3 L512.9 569.4 L517.9 567.6 L522.9 566.0 L527.9 564.5 L532.9 563.3 L537.9 562.1 L542.9 561.1 L547.9 560.2 L552.9 559.4 L557.9 558.7 L562.9 558.0 L567.9 557.5 L572.9 557.0 L577.9 556.5 L582.9 556.1 L587.9 555.8 L592.9 555.4 L597.9 555.2 L602.8 554.9 L607.8 554.7 L612.8 554.5 L617.8 554.3 L622.8 554.2 L627.8 554.0 L632.8 553.9 L637.8 553.8 L642.8 553.7 L647.8 553.6 L652.8 553.5 L657.8 553.5 L662.8 553.4 L667.8 553.4" stroke="#000000" fill="none" stroke-width="1.5" stroke-dasharray="5.5 4"/><path d="M68.4 892.4 L73.4 892.3 L78.4 892.2 L83.4 892.0 L88.4 891.8 L93.4 891.7 L98.4 891.5 L103.4 891.3 L108.4 891.1 L113.4 890.8 L118.3 890.6 L123.3 890.3 L128.3 890.0 L133.3 889.7 L138.3 889.4 L143.3 889.0 L148.3 888.7 L153.3 888.3 L158.3 887.8 L163.3 887.4 L168.3 886.9 L173.3 886.3 L178.3 885.8 L183.3 885.2 L188.3 884.5 L193.3 883.8 L198.3 883.1 L203.3 882.3 L208.3 881.5 L213.3 880.6 L218.2 879.7 L223.2 878.7 L228.2 877.6 L233.2 876.5 L238.2 875.3 L243.2 874.0 L248.2 872.7 L253.2 871.3 L258.2 869.8 L263.2 868.2 L268.2 866.6 L273.2 864.8 L278.2 863.0 L283.2 861.1 L288.2 859.0 L293.2 856.9 L298.2 854.7 L303.2 852.5 L308.2 850.1 L313.1 847.6 L318.1 845.1 L323.1 842.4 L328.1 839.7 L333.1 836.9 L338.1 834.0 L343.1 831.0 L348.1 828.0 L353.1 824.9 L358.1 821.8 L363.1 818.6 L368.1 815.4 L373.1 812.2 L378.1 808.9 L383.1 805.6 L388.1 802.3 L393.1 799.0 L398.1 795.7 L403.1 792.5 L408.0 789.3 L413.0 786.1 L418.0 782.9 L423.0 779.8 L428.0 776.8 L433.0 773.8 L438.0 770.9 L443.0 768.1 L448.0 765.4 L453.0 762.7 L458.0 760.1 L463.0 757.6 L468.0 755.2 L473.0 752.9 L478.0 750.7 L483.0 748.6 L488.0 746.5 L493.0 744.6 L498.0 742.7 L503.0 741.0 L507.9 739.3 L512.9 737.7 L517.9 736.2 L522.9 734.7 L527.9 733.4 L532.9 732.1 L537.9 730.9 L542.9 729.7 L547.9 728.7 L552.9 727.7 L557.9 726.7 L562.9 725.8 L567.9 725.0 L572.9 724.2 L577.9 723.4 L582.9 722.7 L587.9 722.1 L592.9 721.5 L597.9 720.9 L602.8 720.4 L607.8 719.8 L612.8 719.4 L617.8 718.9 L622.8 718.5 L627.8 718.1 L632.8 717.8 L637.8 717.5 L642.8 717.1 L647.8 716.9 L652.8 716.6 L657.8 716.3 L662.8 716.1 L667.8 715.9" stroke="#808080" fill="none" stroke-width="1.5" stroke-dasharray="5.5 4"/></g>
<g font-size="20.6" fill="#000" letter-spacing="0.5"><text x="50.25" y="444.40" font-size="20.6" letter-spacing="0.5">0</text><text x="32.07" y="401.84" font-size="20.6" letter-spacing="0.5">0.</text><path d="M57.91 401.84L57.91 387.23L56.43 387.23C56.01 388.66 54.78 389.48 52.72 389.58L52.72 390.92L55.91 390.92L55.91 401.84Z" fill="#000" stroke="none"/><text x="32.07" y="359.28" font-size="20.6" letter-spacing="0.5">0.2</text><text x="32.07" y="316.72" font-size="20.6" letter-spacing="0.5">0.3</text><text x="32.07" y="274.16" font-size="20.6" letter-spacing="0.5">0.4</text><text x="32.07" y="231.60" font-size="20.6" letter-spacing="0.5">0.5</text><text x="32.07" y="189.04" font-size="20.6" letter-spacing="0.5">0.6</text><text x="32.07" y="146.48" font-size="20.6" letter-spacing="0.5">0.7</text><text x="32.07" y="103.92" font-size="20.6" letter-spacing="0.5">0.8</text><text x="32.07" y="61.36" font-size="20.6" letter-spacing="0.5">0.9</text><path d="M57.91 18.80L57.91 4.19L56.43 4.19C56.01 5.62 54.78 6.44 52.72 6.54L52.72 7.88L55.91 7.88L55.91 18.80Z" fill="#000" stroke="none"/><text x="50.25" y="900.40" font-size="20.6" letter-spacing="0.5">0</text><text x="32.07" y="857.92" font-size="20.6" letter-spacing="0.5">0.</text><path d="M57.91 857.92L57.91 843.31L56.43 843.31C56.01 844.74 54.78 845.56 52.72 845.66L52.72 847.00L55.91 847.00L55.91 857.92Z" fill="#000" stroke="none"/><text x="32.07" y="815.44" font-size="20.6" letter-spacing="0.5">0.2</text><text x="32.07" y="772.96" font-size="20.6" letter-spacing="0.5">0.3</text><text x="32.07" y="730.48" font-size="20.6" letter-spacing="0.5">0.4</text><text x="32.07" y="688.00" font-size="20.6" letter-spacing="0.5">0.5</text><text x="32.07" y="645.52" font-size="20.6" letter-spacing="0.5">0.6</text><text x="32.07" y="603.04" font-size="20.6" letter-spacing="0.5">0.7</text><text x="32.07" y="560.56" font-size="20.6" letter-spacing="0.5">0.8</text><text x="32.07" y="518.08" font-size="20.6" letter-spacing="0.5">0.9</text><path d="M57.91 475.60L57.91 460.99L56.43 460.99C56.01 462.42 54.78 463.24 52.72 463.34L52.72 464.68L55.91 464.68L55.91 475.60Z" fill="#000" stroke="none"/></g>
<g font-size="20.6" fill="#000" letter-spacing="0.5"><text x="52.87" y="917.60" font-size="20.6" letter-spacing="0.5">-</text><path d="M67.89 917.60L67.89 902.99L66.41 902.99C65.99 904.42 64.76 905.24 62.70 905.34L62.70 906.68L65.89 906.68L65.89 917.60Z" fill="#000" stroke="none"/><text x="72.18" y="917.60" font-size="20.6" letter-spacing="0.5">5</text><text x="183.17" y="917.60" font-size="20.6" letter-spacing="0.5">-</text><path d="M198.19 917.60L198.19 902.99L196.71 902.99C196.29 904.42 195.06 905.24 193.00 905.34L193.00 906.68L196.19 906.68L196.19 917.60Z" fill="#000" stroke="none"/><text x="202.48" y="917.60" font-size="20.6" letter-spacing="0.5">0</text><text x="319.44" y="917.60" font-size="20.6" letter-spacing="0.5">-5</text><text x="453.42" y="917.60" font-size="20.6" letter-spacing="0.5">0</text><text x="583.72" y="917.60" font-size="20.6" letter-spacing="0.5">5</text></g>
<text x="328.5" y="940.2" font-size="22.6">T</text><text x="342.3" y="950.6" font-size="16">air</text><text x="367.4" y="940.2" font-size="22.6">(°C)</text>
<text font-size="22.8" transform="translate(23.6,225.4) rotate(-90)" text-anchor="middle">Normalised E</text>
<text font-size="22.8" transform="translate(23.6,681.2) rotate(-90)" text-anchor="middle">Normalised R</text>
<text x="3" y="20.4" font-size="21" font-weight="bold">a)</text>
<text x="3" y="476.4" font-size="21" font-weight="bold">b)</text>
<rect x="83.4" y="27.3" width="141.9" height="314.8" fill="#fff" stroke="#000" stroke-width="2"/><g stroke-width="1.35"><circle cx="111.1" cy="38.6" r="7.1" stroke="#000" fill="none"/><path d="M111.1 47.7L118.2 56.4L111.1 65.1L104.0 56.4Z" stroke="#000" fill="none"/><path d="M103 70.6L119 70.6L111 83.9Z" stroke="#000" fill="none"/><path d="M115.6 85.6L115.6 101.1L102 93.4Z" stroke="#000" fill="none"/><circle cx="111.1" cy="115.8" r="7.1" stroke="#1f6a2c" fill="none"/><circle cx="111.1" cy="142.4" r="7.1" stroke="#33d333" fill="none"/><circle cx="111.1" cy="169.1" r="7.1" stroke="#46e2e2" fill="none"/><circle cx="111.1" cy="195.7" r="7.1" stroke="#1c1ca8" fill="none"/><circle cx="111.1" cy="222.2" r="7.1" stroke="#8a5436" fill="none"/><circle cx="111.1" cy="248.8" r="7.1" stroke="#dd2ddd" fill="none"/><circle cx="111.1" cy="275.4" r="7.1" stroke="#d02626" fill="none"/><circle cx="111.1" cy="302.1" r="7.1" stroke="#7d868e" fill="none"/><circle cx="111.1" cy="328.6" r="7.1" stroke="#000000" fill="none"/></g><g font-size="17.6" fill="#000" letter-spacing="0.4"><text x="134.2" y="42.6">Helsinki</text><text x="134.2" y="60.8">Montreal</text><text x="134.2" y="79.3">Minnepolis</text><text x="134.2" y="97.4">Basel</text><text x="144.4" y="126.0" font-size="14.2">imp</text><text x="172.4" y="116.7">=</text><text x="188.60" y="116.70" font-size="17.6" letter-spacing="0.4">0.</text><path d="M210.63 116.70L210.63 104.22L209.36 104.22C209.01 105.44 207.95 106.14 206.19 106.23L206.19 107.37L208.92 107.37L208.92 116.70Z" fill="#000" stroke="none"/><text x="144.4" y="152.6" font-size="14.2">imp</text><text x="172.4" y="143.3">=</text><text x="188.60" y="143.30" font-size="17.6" letter-spacing="0.4">0.2</text><text x="144.4" y="179.2" font-size="14.2">imp</text><text x="172.4" y="169.9">=</text><text x="188.60" y="169.90" font-size="17.6" letter-spacing="0.4">0.3</text><text x="144.4" y="205.8" font-size="14.2">imp</text><text x="172.4" y="196.5">=</text><text x="188.60" y="196.50" font-size="17.6" letter-spacing="0.4">0.4</text><text x="144.4" y="232.4" font-size="14.2">imp</text><text x="172.4" y="223.1">=</text><text x="188.60" y="223.10" font-size="17.6" letter-spacing="0.4">0.5</text><text x="144.4" y="259.0" font-size="14.2">imp</text><text x="172.4" y="249.7">=</text><text x="188.60" y="249.70" font-size="17.6" letter-spacing="0.4">0.6</text><text x="144.4" y="285.6" font-size="14.2">imp</text><text x="172.4" y="276.3">=</text><text x="188.60" y="276.30" font-size="17.6" letter-spacing="0.4">0.7</text><text x="144.4" y="312.2" font-size="14.2">imp</text><text x="172.4" y="302.9">=</text><text x="188.60" y="302.90" font-size="17.6" letter-spacing="0.4">0.8</text><text x="144.4" y="338.8" font-size="14.2">imp</text><text x="172.4" y="329.5">=</text><text x="188.60" y="329.50" font-size="17.6" letter-spacing="0.4">0.9</text></g><g stroke="#000" fill="none" stroke-linecap="round"><path d="M137.00 104.80Q138.60 104.10 139.50 106.50L143.20 116.40" stroke-width="1.35"/><path d="M140.50 110.50L135.60 116.40" stroke-width="1.1"/><path d="M137.00 131.40Q138.60 130.70 139.50 133.10L143.20 143.00" stroke-width="1.35"/><path d="M140.50 137.10L135.60 143.00" stroke-width="1.1"/><path d="M137.00 158.00Q138.60 157.30 139.50 159.70L143.20 169.60" stroke-width="1.35"/><path d="M140.50 163.70L135.60 169.60" stroke-width="1.1"/><path d="M137.00 184.60Q138.60 183.90 139.50 186.30L143.20 196.20" stroke-width="1.35"/><path d="M140.50 190.30L135.60 196.20" stroke-width="1.1"/><path d="M137.00 211.20Q138.60 210.50 139.50 212.90L143.20 222.80" stroke-width="1.35"/><path d="M140.50 216.90L135.60 222.80" stroke-width="1.1"/><path d="M137.00 237.80Q138.60 237.10 139.50 239.50L143.20 249.40" stroke-width="1.35"/><path d="M140.50 243.50L135.60 249.40" stroke-width="1.1"/><path d="M137.00 264.40Q138.60 263.70 139.50 266.10L143.20 276.00" stroke-width="1.35"/><path d="M140.50 270.10L135.60 276.00" stroke-width="1.1"/><path d="M137.00 291.00Q138.60 290.30 139.50 292.70L143.20 302.60" stroke-width="1.35"/><path d="M140.50 296.70L135.60 302.60" stroke-width="1.1"/><path d="M137.00 317.60Q138.60 316.90 139.50 319.30L143.20 329.20" stroke-width="1.35"/><path d="M140.50 323.30L135.60 329.20" stroke-width="1.1"/></g>
<rect x="84.6" y="489.1" width="169.6" height="162" fill="#fff" stroke="#000" stroke-width="2"/><line x1="91" y1="505.4" x2="127.3" y2="505.4" stroke="#33cc33" stroke-width="1.3" stroke-dasharray="5.8 4.4"/><line x1="91" y1="533" x2="127.3" y2="533" stroke="#1c1cb0" stroke-width="1.3" stroke-dasharray="5.8 4.4"/><line x1="91" y1="560.7" x2="127.3" y2="560.7" stroke="#dd22dd" stroke-width="1.3" stroke-dasharray="5.8 4.4"/><line x1="91" y1="588.3" x2="127.3" y2="588.3" stroke="#d02020" stroke-width="1.3" stroke-dasharray="5.8 4.4"/><line x1="91" y1="616" x2="127.3" y2="616" stroke="#000000" stroke-width="1.3" stroke-dasharray="5.8 4.4"/><line x1="91" y1="639.1" x2="127.3" y2="639.1" stroke="#808080" stroke-width="1.3" stroke-dasharray="5.8 4.4"/><g font-size="17.4" fill="#000" letter-spacing="0.4"><text x="145.8" y="514.9" font-size="14.2">imp</text><text x="169.5" y="505.7">=</text><text x="184.50" y="505.70" font-size="17.4" letter-spacing="0.4">0.</text><path d="M206.28 505.70L206.28 493.36L205.03 493.36C204.68 494.56 203.64 495.26 201.90 495.35L201.90 496.48L204.60 496.48L204.60 505.70Z" fill="#000" stroke="none"/><text x="134.9" y="533.0">0.2</text><text x="184.9" y="541.3" font-size="14.2">imp</text><text x="222.6" y="533.0">0.3</text><text x="134.9" y="560.7">0.4</text><text x="184.9" y="569.0" font-size="14.2">imp</text><text x="222.6" y="560.7">0.5</text><text x="134.9" y="587.6">0.6</text><text x="184.9" y="595.9" font-size="14.2">imp</text><text x="222.6" y="587.6">0.7</text><text x="146.2" y="625.5" font-size="14.2">imp</text><text x="193.2" y="616.3">0.8</text><text x="135.1" y="643.4">Observed</text></g><g stroke="#000" fill="none" stroke-linecap="round"><path d="M136.90 493.80Q138.50 493.10 139.40 495.50L143.10 505.40" stroke-width="1.35"/><path d="M140.40 499.50L135.50 505.40" stroke-width="1.1"/><path d="M173.30 522.20L162.20 527.40L173.30 532.80M162.20 535.60H173.30" stroke-width="1"/><path d="M177.80 521.10Q179.40 520.40 180.30 522.80L184.00 532.70" stroke-width="1.35"/><path d="M181.30 526.80L176.40 532.70" stroke-width="1.1"/><path d="M221.70 522.20L210.60 527.40L221.70 532.80M210.60 535.60H221.70" stroke-width="1"/><path d="M173.30 549.90L162.20 555.10L173.30 560.50M162.20 563.30H173.30" stroke-width="1"/><path d="M177.80 548.80Q179.40 548.10 180.30 550.50L184.00 560.40" stroke-width="1.35"/><path d="M181.30 554.50L176.40 560.40" stroke-width="1.1"/><path d="M221.70 549.90L210.60 555.10L221.70 560.50M210.60 563.30H221.70" stroke-width="1"/><path d="M173.30 576.80L162.20 582.00L173.30 587.40M162.20 590.20H173.30" stroke-width="1"/><path d="M177.80 575.70Q179.40 575.00 180.30 577.40L184.00 587.30" stroke-width="1.35"/><path d="M181.30 581.40L176.40 587.30" stroke-width="1.1"/><path d="M221.70 576.80L210.60 582.00L221.70 587.40M210.60 590.20H221.70" stroke-width="1"/><path d="M138.20 604.40Q139.80 603.70 140.70 606.10L144.40 616.00" stroke-width="1.35"/><path d="M141.70 610.10L136.80 616.00" stroke-width="1.1"/><path d="M176.30 605.50L186.50 610.70L176.30 616.10M176.30 618.90H186.50" stroke-width="1"/></g>
</svg></body></html>
